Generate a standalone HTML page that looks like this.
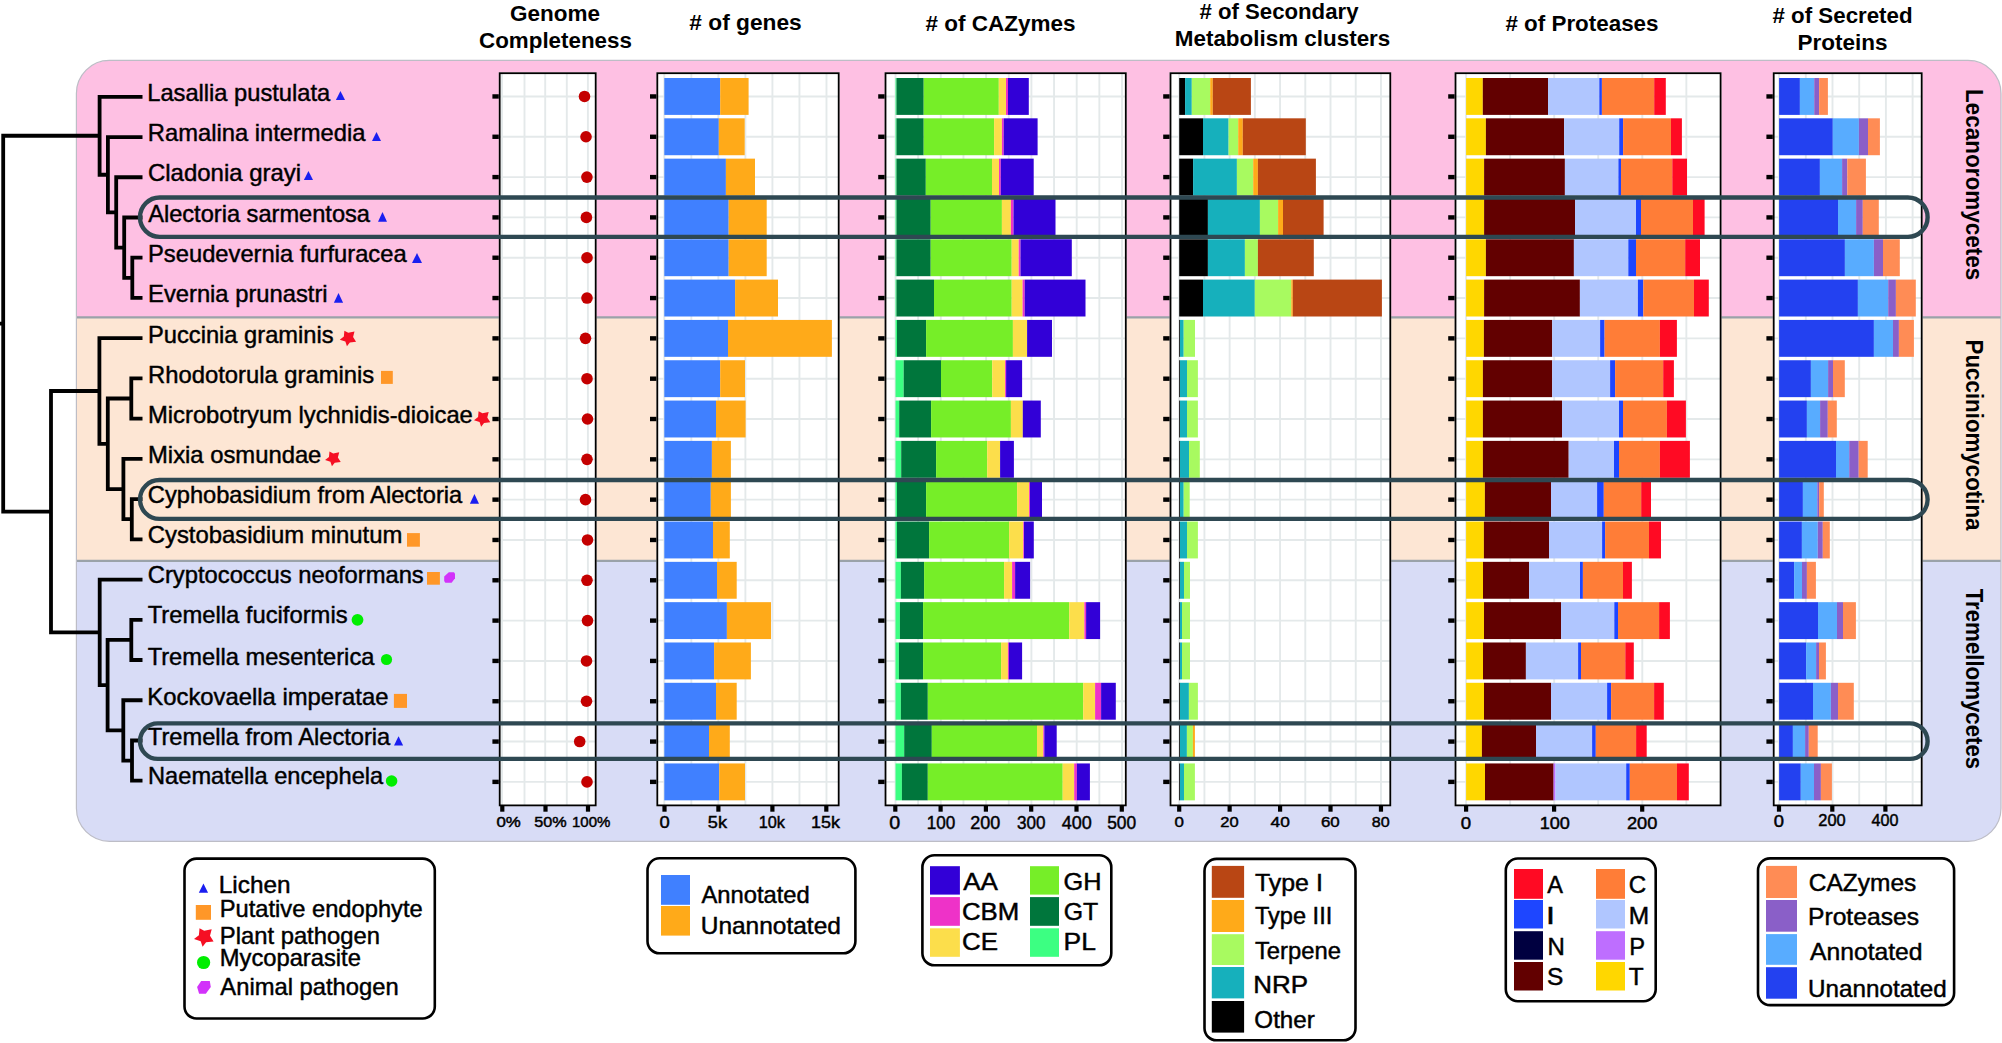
<!DOCTYPE html>
<html><head><meta charset="utf-8"><title>Figure</title>
<style>html,body{margin:0;padding:0;background:#fff;overflow:hidden;} svg{display:block;}</style></head>
<body><svg width="2002" height="1043" viewBox="0 0 2002 1043">
<rect width="2002" height="1043" fill="#fff"/>
<rect x="184.5" y="858.6" width="250.30" height="159.90" rx="12" ry="12" fill="#fff" stroke="#000" stroke-width="2.6"/>
<rect x="647.5" y="858.3000000000001" width="207.90" height="95.00" rx="12" ry="12" fill="#fff" stroke="#000" stroke-width="2.6"/>
<rect x="922.4000000000001" y="855.2" width="188.90" height="110.10" rx="12" ry="12" fill="#fff" stroke="#000" stroke-width="2.6"/>
<rect x="1204.5" y="858.9000000000001" width="151.00" height="181.40" rx="12" ry="12" fill="#fff" stroke="#000" stroke-width="2.6"/>
<rect x="1505.8" y="858.5" width="149.90" height="142.70" rx="12" ry="12" fill="#fff" stroke="#000" stroke-width="2.6"/>
<rect x="1758.0" y="858.4000000000001" width="196.10" height="146.70" rx="12" ry="12" fill="#fff" stroke="#000" stroke-width="2.6"/>
<polygon points="198.80,892.70 208.10,892.70 203.45,883.60" fill="#1A1EF0"/>
<rect x="195.8" y="905.0" width="15.20" height="14.80" fill="#FF9728"/>
<polygon points="199.50,928.20 204.20,930.80 211.70,929.20 210.00,935.80 213.60,941.60 206.10,942.30 202.60,946.80 200.70,941.20 194.00,939.00 198.90,935.30" fill="#F50F23"/>
<circle cx="203.6" cy="962.5" r="6.6" fill="#00EE00"/>
<polygon points="201.2,981.1 209.8,981.1 210.8,987 205.8,993.8 199.1,993.8 197.1,987" fill="#D232FA"/>
<rect x="661" y="875" width="29.00" height="29.80" fill="#4080FF"/>
<rect x="661" y="906" width="29.00" height="29.60" fill="#FFAA19"/>
<rect x="930" y="866.2" width="29.90" height="28.40" fill="#3200D7"/>
<rect x="1030" y="866.2" width="29.00" height="28.40" fill="#76EE28"/>
<rect x="930" y="897.1" width="29.90" height="28.70" fill="#EE32C8"/>
<rect x="1030" y="897.1" width="29.00" height="28.70" fill="#00763C"/>
<rect x="930" y="928.3" width="29.90" height="28.50" fill="#FCDE4B"/>
<rect x="1030" y="928.3" width="29.00" height="28.50" fill="#3CFF82"/>
<rect x="1211.8" y="865.9" width="32.30" height="31.90" fill="#B94614"/>
<rect x="1211.8" y="900" width="32.30" height="32.00" fill="#FFAA19"/>
<rect x="1211.8" y="934.2" width="32.30" height="30.80" fill="#A8FA60"/>
<rect x="1211.8" y="967" width="32.30" height="31.40" fill="#16B0BC"/>
<rect x="1211.8" y="1001" width="32.30" height="31.60" fill="#000000"/>
<rect x="1514" y="869" width="29.00" height="29.80" fill="#FF0A23"/>
<rect x="1596" y="869" width="29.00" height="29.80" fill="#FF7D37"/>
<rect x="1514" y="900" width="29.00" height="28.50" fill="#1E46FF"/>
<rect x="1596" y="900" width="29.00" height="28.50" fill="#B0C6FF"/>
<rect x="1514" y="931.2" width="29.00" height="28.50" fill="#000040"/>
<rect x="1596" y="931.2" width="29.00" height="28.50" fill="#BE6EFF"/>
<rect x="1514" y="962" width="29.00" height="28.50" fill="#620000"/>
<rect x="1596" y="962" width="29.00" height="28.50" fill="#FFD700"/>
<rect x="1766" y="865.9" width="31.00" height="32.10" fill="#FF8C55"/>
<rect x="1766" y="900" width="31.00" height="31.70" fill="#8A5FC8"/>
<rect x="1766" y="934.1" width="31.00" height="30.70" fill="#58ACFF"/>
<rect x="1766" y="967.2" width="31.00" height="31.50" fill="#2341F0"/>
<defs><clipPath id="band"><rect x="76.4" y="60.4" width="1924.6" height="780.9" rx="33" ry="33"/></clipPath></defs>
<g clip-path="url(#band)">
<rect x="76.4" y="60.4" width="1924.6" height="256.90000000000003" fill="#FEC0E3"/>
<rect x="76.4" y="317.3" width="1924.6" height="243.49999999999994" fill="#FDE6D4"/>
<rect x="76.4" y="560.8" width="1924.6" height="280.5" fill="#D8DCF6"/>
<line x1="76.4" y1="317.3" x2="2001.0" y2="317.3" stroke="#9AA2A9" stroke-width="2.2"/>
<line x1="76.4" y1="560.8" x2="2001.0" y2="560.8" stroke="#9AA2A9" stroke-width="2.2"/>
</g>
<rect x="76.4" y="60.4" width="1924.6" height="780.9" rx="33" ry="33" fill="none" stroke="#BDBDC6" stroke-width="1.2"/>
<rect x="498.8" y="72.3" width="97.80000000000001" height="734.0" fill="#fff"/>
<line x1="502.00" y1="73.3" x2="502.00" y2="805.3" stroke="#E4E9EA" stroke-width="1.9"/>
<line x1="524.50" y1="73.3" x2="524.50" y2="805.3" stroke="#E4E9EA" stroke-width="1.9"/>
<line x1="545.20" y1="73.3" x2="545.20" y2="805.3" stroke="#E4E9EA" stroke-width="1.9"/>
<line x1="566.80" y1="73.3" x2="566.80" y2="805.3" stroke="#E4E9EA" stroke-width="1.9"/>
<line x1="587.90" y1="73.3" x2="587.90" y2="805.3" stroke="#E4E9EA" stroke-width="1.9"/>
<line x1="499.8" y1="96.45" x2="595.6" y2="96.45" stroke="#E4E9EA" stroke-width="1.9"/>
<line x1="499.8" y1="136.77" x2="595.6" y2="136.77" stroke="#E4E9EA" stroke-width="1.9"/>
<line x1="499.8" y1="177.09" x2="595.6" y2="177.09" stroke="#E4E9EA" stroke-width="1.9"/>
<line x1="499.8" y1="217.41" x2="595.6" y2="217.41" stroke="#E4E9EA" stroke-width="1.9"/>
<line x1="499.8" y1="257.73" x2="595.6" y2="257.73" stroke="#E4E9EA" stroke-width="1.9"/>
<line x1="499.8" y1="298.05" x2="595.6" y2="298.05" stroke="#E4E9EA" stroke-width="1.9"/>
<line x1="499.8" y1="338.37" x2="595.6" y2="338.37" stroke="#E4E9EA" stroke-width="1.9"/>
<line x1="499.8" y1="378.69" x2="595.6" y2="378.69" stroke="#E4E9EA" stroke-width="1.9"/>
<line x1="499.8" y1="419.01" x2="595.6" y2="419.01" stroke="#E4E9EA" stroke-width="1.9"/>
<line x1="499.8" y1="459.33" x2="595.6" y2="459.33" stroke="#E4E9EA" stroke-width="1.9"/>
<line x1="499.8" y1="499.65" x2="595.6" y2="499.65" stroke="#E4E9EA" stroke-width="1.9"/>
<line x1="499.8" y1="539.97" x2="595.6" y2="539.97" stroke="#E4E9EA" stroke-width="1.9"/>
<line x1="499.8" y1="580.29" x2="595.6" y2="580.29" stroke="#E4E9EA" stroke-width="1.9"/>
<line x1="499.8" y1="620.61" x2="595.6" y2="620.61" stroke="#E4E9EA" stroke-width="1.9"/>
<line x1="499.8" y1="660.93" x2="595.6" y2="660.93" stroke="#E4E9EA" stroke-width="1.9"/>
<line x1="499.8" y1="701.25" x2="595.6" y2="701.25" stroke="#E4E9EA" stroke-width="1.9"/>
<line x1="499.8" y1="741.57" x2="595.6" y2="741.57" stroke="#E4E9EA" stroke-width="1.9"/>
<line x1="499.8" y1="781.89" x2="595.6" y2="781.89" stroke="#E4E9EA" stroke-width="1.9"/>
<line x1="492.40000000000003" y1="96.45" x2="498.8" y2="96.45" stroke="#000" stroke-width="4.4"/>
<line x1="492.40000000000003" y1="136.77" x2="498.8" y2="136.77" stroke="#000" stroke-width="4.4"/>
<line x1="492.40000000000003" y1="177.09" x2="498.8" y2="177.09" stroke="#000" stroke-width="4.4"/>
<line x1="492.40000000000003" y1="217.41" x2="498.8" y2="217.41" stroke="#000" stroke-width="4.4"/>
<line x1="492.40000000000003" y1="257.73" x2="498.8" y2="257.73" stroke="#000" stroke-width="4.4"/>
<line x1="492.40000000000003" y1="298.05" x2="498.8" y2="298.05" stroke="#000" stroke-width="4.4"/>
<line x1="492.40000000000003" y1="338.37" x2="498.8" y2="338.37" stroke="#000" stroke-width="4.4"/>
<line x1="492.40000000000003" y1="378.69" x2="498.8" y2="378.69" stroke="#000" stroke-width="4.4"/>
<line x1="492.40000000000003" y1="419.01" x2="498.8" y2="419.01" stroke="#000" stroke-width="4.4"/>
<line x1="492.40000000000003" y1="459.33" x2="498.8" y2="459.33" stroke="#000" stroke-width="4.4"/>
<line x1="492.40000000000003" y1="499.65" x2="498.8" y2="499.65" stroke="#000" stroke-width="4.4"/>
<line x1="492.40000000000003" y1="539.97" x2="498.8" y2="539.97" stroke="#000" stroke-width="4.4"/>
<line x1="492.40000000000003" y1="580.29" x2="498.8" y2="580.29" stroke="#000" stroke-width="4.4"/>
<line x1="492.40000000000003" y1="620.61" x2="498.8" y2="620.61" stroke="#000" stroke-width="4.4"/>
<line x1="492.40000000000003" y1="660.93" x2="498.8" y2="660.93" stroke="#000" stroke-width="4.4"/>
<line x1="492.40000000000003" y1="701.25" x2="498.8" y2="701.25" stroke="#000" stroke-width="4.4"/>
<line x1="492.40000000000003" y1="741.57" x2="498.8" y2="741.57" stroke="#000" stroke-width="4.4"/>
<line x1="492.40000000000003" y1="781.89" x2="498.8" y2="781.89" stroke="#000" stroke-width="4.4"/>
<rect x="656.4" y="72.3" width="183.20000000000005" height="734.0" fill="#fff"/>
<line x1="664.30" y1="73.3" x2="664.30" y2="805.3" stroke="#E4E9EA" stroke-width="1.9"/>
<line x1="691.33" y1="73.3" x2="691.33" y2="805.3" stroke="#E4E9EA" stroke-width="1.9"/>
<line x1="718.36" y1="73.3" x2="718.36" y2="805.3" stroke="#E4E9EA" stroke-width="1.9"/>
<line x1="745.39" y1="73.3" x2="745.39" y2="805.3" stroke="#E4E9EA" stroke-width="1.9"/>
<line x1="772.42" y1="73.3" x2="772.42" y2="805.3" stroke="#E4E9EA" stroke-width="1.9"/>
<line x1="799.45" y1="73.3" x2="799.45" y2="805.3" stroke="#E4E9EA" stroke-width="1.9"/>
<line x1="826.48" y1="73.3" x2="826.48" y2="805.3" stroke="#E4E9EA" stroke-width="1.9"/>
<line x1="657.4" y1="96.45" x2="838.6" y2="96.45" stroke="#E4E9EA" stroke-width="1.9"/>
<line x1="657.4" y1="136.77" x2="838.6" y2="136.77" stroke="#E4E9EA" stroke-width="1.9"/>
<line x1="657.4" y1="177.09" x2="838.6" y2="177.09" stroke="#E4E9EA" stroke-width="1.9"/>
<line x1="657.4" y1="217.41" x2="838.6" y2="217.41" stroke="#E4E9EA" stroke-width="1.9"/>
<line x1="657.4" y1="257.73" x2="838.6" y2="257.73" stroke="#E4E9EA" stroke-width="1.9"/>
<line x1="657.4" y1="298.05" x2="838.6" y2="298.05" stroke="#E4E9EA" stroke-width="1.9"/>
<line x1="657.4" y1="338.37" x2="838.6" y2="338.37" stroke="#E4E9EA" stroke-width="1.9"/>
<line x1="657.4" y1="378.69" x2="838.6" y2="378.69" stroke="#E4E9EA" stroke-width="1.9"/>
<line x1="657.4" y1="419.01" x2="838.6" y2="419.01" stroke="#E4E9EA" stroke-width="1.9"/>
<line x1="657.4" y1="459.33" x2="838.6" y2="459.33" stroke="#E4E9EA" stroke-width="1.9"/>
<line x1="657.4" y1="499.65" x2="838.6" y2="499.65" stroke="#E4E9EA" stroke-width="1.9"/>
<line x1="657.4" y1="539.97" x2="838.6" y2="539.97" stroke="#E4E9EA" stroke-width="1.9"/>
<line x1="657.4" y1="580.29" x2="838.6" y2="580.29" stroke="#E4E9EA" stroke-width="1.9"/>
<line x1="657.4" y1="620.61" x2="838.6" y2="620.61" stroke="#E4E9EA" stroke-width="1.9"/>
<line x1="657.4" y1="660.93" x2="838.6" y2="660.93" stroke="#E4E9EA" stroke-width="1.9"/>
<line x1="657.4" y1="701.25" x2="838.6" y2="701.25" stroke="#E4E9EA" stroke-width="1.9"/>
<line x1="657.4" y1="741.57" x2="838.6" y2="741.57" stroke="#E4E9EA" stroke-width="1.9"/>
<line x1="657.4" y1="781.89" x2="838.6" y2="781.89" stroke="#E4E9EA" stroke-width="1.9"/>
<line x1="650.0" y1="96.45" x2="656.4" y2="96.45" stroke="#000" stroke-width="4.4"/>
<line x1="650.0" y1="136.77" x2="656.4" y2="136.77" stroke="#000" stroke-width="4.4"/>
<line x1="650.0" y1="177.09" x2="656.4" y2="177.09" stroke="#000" stroke-width="4.4"/>
<line x1="650.0" y1="217.41" x2="656.4" y2="217.41" stroke="#000" stroke-width="4.4"/>
<line x1="650.0" y1="257.73" x2="656.4" y2="257.73" stroke="#000" stroke-width="4.4"/>
<line x1="650.0" y1="298.05" x2="656.4" y2="298.05" stroke="#000" stroke-width="4.4"/>
<line x1="650.0" y1="338.37" x2="656.4" y2="338.37" stroke="#000" stroke-width="4.4"/>
<line x1="650.0" y1="378.69" x2="656.4" y2="378.69" stroke="#000" stroke-width="4.4"/>
<line x1="650.0" y1="419.01" x2="656.4" y2="419.01" stroke="#000" stroke-width="4.4"/>
<line x1="650.0" y1="459.33" x2="656.4" y2="459.33" stroke="#000" stroke-width="4.4"/>
<line x1="650.0" y1="499.65" x2="656.4" y2="499.65" stroke="#000" stroke-width="4.4"/>
<line x1="650.0" y1="539.97" x2="656.4" y2="539.97" stroke="#000" stroke-width="4.4"/>
<line x1="650.0" y1="580.29" x2="656.4" y2="580.29" stroke="#000" stroke-width="4.4"/>
<line x1="650.0" y1="620.61" x2="656.4" y2="620.61" stroke="#000" stroke-width="4.4"/>
<line x1="650.0" y1="660.93" x2="656.4" y2="660.93" stroke="#000" stroke-width="4.4"/>
<line x1="650.0" y1="701.25" x2="656.4" y2="701.25" stroke="#000" stroke-width="4.4"/>
<line x1="650.0" y1="741.57" x2="656.4" y2="741.57" stroke="#000" stroke-width="4.4"/>
<line x1="650.0" y1="781.89" x2="656.4" y2="781.89" stroke="#000" stroke-width="4.4"/>
<rect x="884.6" y="72.3" width="242.10000000000002" height="734.0" fill="#fff"/>
<line x1="895.50" y1="73.3" x2="895.50" y2="805.3" stroke="#E4E9EA" stroke-width="1.9"/>
<line x1="918.15" y1="73.3" x2="918.15" y2="805.3" stroke="#E4E9EA" stroke-width="1.9"/>
<line x1="940.80" y1="73.3" x2="940.80" y2="805.3" stroke="#E4E9EA" stroke-width="1.9"/>
<line x1="963.45" y1="73.3" x2="963.45" y2="805.3" stroke="#E4E9EA" stroke-width="1.9"/>
<line x1="986.10" y1="73.3" x2="986.10" y2="805.3" stroke="#E4E9EA" stroke-width="1.9"/>
<line x1="1008.75" y1="73.3" x2="1008.75" y2="805.3" stroke="#E4E9EA" stroke-width="1.9"/>
<line x1="1031.40" y1="73.3" x2="1031.40" y2="805.3" stroke="#E4E9EA" stroke-width="1.9"/>
<line x1="1054.05" y1="73.3" x2="1054.05" y2="805.3" stroke="#E4E9EA" stroke-width="1.9"/>
<line x1="1076.70" y1="73.3" x2="1076.70" y2="805.3" stroke="#E4E9EA" stroke-width="1.9"/>
<line x1="1099.35" y1="73.3" x2="1099.35" y2="805.3" stroke="#E4E9EA" stroke-width="1.9"/>
<line x1="1122.00" y1="73.3" x2="1122.00" y2="805.3" stroke="#E4E9EA" stroke-width="1.9"/>
<line x1="885.6" y1="96.45" x2="1125.7" y2="96.45" stroke="#E4E9EA" stroke-width="1.9"/>
<line x1="885.6" y1="136.77" x2="1125.7" y2="136.77" stroke="#E4E9EA" stroke-width="1.9"/>
<line x1="885.6" y1="177.09" x2="1125.7" y2="177.09" stroke="#E4E9EA" stroke-width="1.9"/>
<line x1="885.6" y1="217.41" x2="1125.7" y2="217.41" stroke="#E4E9EA" stroke-width="1.9"/>
<line x1="885.6" y1="257.73" x2="1125.7" y2="257.73" stroke="#E4E9EA" stroke-width="1.9"/>
<line x1="885.6" y1="298.05" x2="1125.7" y2="298.05" stroke="#E4E9EA" stroke-width="1.9"/>
<line x1="885.6" y1="338.37" x2="1125.7" y2="338.37" stroke="#E4E9EA" stroke-width="1.9"/>
<line x1="885.6" y1="378.69" x2="1125.7" y2="378.69" stroke="#E4E9EA" stroke-width="1.9"/>
<line x1="885.6" y1="419.01" x2="1125.7" y2="419.01" stroke="#E4E9EA" stroke-width="1.9"/>
<line x1="885.6" y1="459.33" x2="1125.7" y2="459.33" stroke="#E4E9EA" stroke-width="1.9"/>
<line x1="885.6" y1="499.65" x2="1125.7" y2="499.65" stroke="#E4E9EA" stroke-width="1.9"/>
<line x1="885.6" y1="539.97" x2="1125.7" y2="539.97" stroke="#E4E9EA" stroke-width="1.9"/>
<line x1="885.6" y1="580.29" x2="1125.7" y2="580.29" stroke="#E4E9EA" stroke-width="1.9"/>
<line x1="885.6" y1="620.61" x2="1125.7" y2="620.61" stroke="#E4E9EA" stroke-width="1.9"/>
<line x1="885.6" y1="660.93" x2="1125.7" y2="660.93" stroke="#E4E9EA" stroke-width="1.9"/>
<line x1="885.6" y1="701.25" x2="1125.7" y2="701.25" stroke="#E4E9EA" stroke-width="1.9"/>
<line x1="885.6" y1="741.57" x2="1125.7" y2="741.57" stroke="#E4E9EA" stroke-width="1.9"/>
<line x1="885.6" y1="781.89" x2="1125.7" y2="781.89" stroke="#E4E9EA" stroke-width="1.9"/>
<line x1="878.2" y1="96.45" x2="884.6" y2="96.45" stroke="#000" stroke-width="4.4"/>
<line x1="878.2" y1="136.77" x2="884.6" y2="136.77" stroke="#000" stroke-width="4.4"/>
<line x1="878.2" y1="177.09" x2="884.6" y2="177.09" stroke="#000" stroke-width="4.4"/>
<line x1="878.2" y1="217.41" x2="884.6" y2="217.41" stroke="#000" stroke-width="4.4"/>
<line x1="878.2" y1="257.73" x2="884.6" y2="257.73" stroke="#000" stroke-width="4.4"/>
<line x1="878.2" y1="298.05" x2="884.6" y2="298.05" stroke="#000" stroke-width="4.4"/>
<line x1="878.2" y1="338.37" x2="884.6" y2="338.37" stroke="#000" stroke-width="4.4"/>
<line x1="878.2" y1="378.69" x2="884.6" y2="378.69" stroke="#000" stroke-width="4.4"/>
<line x1="878.2" y1="419.01" x2="884.6" y2="419.01" stroke="#000" stroke-width="4.4"/>
<line x1="878.2" y1="459.33" x2="884.6" y2="459.33" stroke="#000" stroke-width="4.4"/>
<line x1="878.2" y1="499.65" x2="884.6" y2="499.65" stroke="#000" stroke-width="4.4"/>
<line x1="878.2" y1="539.97" x2="884.6" y2="539.97" stroke="#000" stroke-width="4.4"/>
<line x1="878.2" y1="580.29" x2="884.6" y2="580.29" stroke="#000" stroke-width="4.4"/>
<line x1="878.2" y1="620.61" x2="884.6" y2="620.61" stroke="#000" stroke-width="4.4"/>
<line x1="878.2" y1="660.93" x2="884.6" y2="660.93" stroke="#000" stroke-width="4.4"/>
<line x1="878.2" y1="701.25" x2="884.6" y2="701.25" stroke="#000" stroke-width="4.4"/>
<line x1="878.2" y1="741.57" x2="884.6" y2="741.57" stroke="#000" stroke-width="4.4"/>
<line x1="878.2" y1="781.89" x2="884.6" y2="781.89" stroke="#000" stroke-width="4.4"/>
<rect x="1169.6" y="72.3" width="221.60000000000014" height="734.0" fill="#fff"/>
<line x1="1179.20" y1="73.3" x2="1179.20" y2="805.3" stroke="#E4E9EA" stroke-width="1.9"/>
<line x1="1204.42" y1="73.3" x2="1204.42" y2="805.3" stroke="#E4E9EA" stroke-width="1.9"/>
<line x1="1229.64" y1="73.3" x2="1229.64" y2="805.3" stroke="#E4E9EA" stroke-width="1.9"/>
<line x1="1254.86" y1="73.3" x2="1254.86" y2="805.3" stroke="#E4E9EA" stroke-width="1.9"/>
<line x1="1280.08" y1="73.3" x2="1280.08" y2="805.3" stroke="#E4E9EA" stroke-width="1.9"/>
<line x1="1305.30" y1="73.3" x2="1305.30" y2="805.3" stroke="#E4E9EA" stroke-width="1.9"/>
<line x1="1330.52" y1="73.3" x2="1330.52" y2="805.3" stroke="#E4E9EA" stroke-width="1.9"/>
<line x1="1355.74" y1="73.3" x2="1355.74" y2="805.3" stroke="#E4E9EA" stroke-width="1.9"/>
<line x1="1380.96" y1="73.3" x2="1380.96" y2="805.3" stroke="#E4E9EA" stroke-width="1.9"/>
<line x1="1170.6" y1="96.45" x2="1390.2" y2="96.45" stroke="#E4E9EA" stroke-width="1.9"/>
<line x1="1170.6" y1="136.77" x2="1390.2" y2="136.77" stroke="#E4E9EA" stroke-width="1.9"/>
<line x1="1170.6" y1="177.09" x2="1390.2" y2="177.09" stroke="#E4E9EA" stroke-width="1.9"/>
<line x1="1170.6" y1="217.41" x2="1390.2" y2="217.41" stroke="#E4E9EA" stroke-width="1.9"/>
<line x1="1170.6" y1="257.73" x2="1390.2" y2="257.73" stroke="#E4E9EA" stroke-width="1.9"/>
<line x1="1170.6" y1="298.05" x2="1390.2" y2="298.05" stroke="#E4E9EA" stroke-width="1.9"/>
<line x1="1170.6" y1="338.37" x2="1390.2" y2="338.37" stroke="#E4E9EA" stroke-width="1.9"/>
<line x1="1170.6" y1="378.69" x2="1390.2" y2="378.69" stroke="#E4E9EA" stroke-width="1.9"/>
<line x1="1170.6" y1="419.01" x2="1390.2" y2="419.01" stroke="#E4E9EA" stroke-width="1.9"/>
<line x1="1170.6" y1="459.33" x2="1390.2" y2="459.33" stroke="#E4E9EA" stroke-width="1.9"/>
<line x1="1170.6" y1="499.65" x2="1390.2" y2="499.65" stroke="#E4E9EA" stroke-width="1.9"/>
<line x1="1170.6" y1="539.97" x2="1390.2" y2="539.97" stroke="#E4E9EA" stroke-width="1.9"/>
<line x1="1170.6" y1="580.29" x2="1390.2" y2="580.29" stroke="#E4E9EA" stroke-width="1.9"/>
<line x1="1170.6" y1="620.61" x2="1390.2" y2="620.61" stroke="#E4E9EA" stroke-width="1.9"/>
<line x1="1170.6" y1="660.93" x2="1390.2" y2="660.93" stroke="#E4E9EA" stroke-width="1.9"/>
<line x1="1170.6" y1="701.25" x2="1390.2" y2="701.25" stroke="#E4E9EA" stroke-width="1.9"/>
<line x1="1170.6" y1="741.57" x2="1390.2" y2="741.57" stroke="#E4E9EA" stroke-width="1.9"/>
<line x1="1170.6" y1="781.89" x2="1390.2" y2="781.89" stroke="#E4E9EA" stroke-width="1.9"/>
<line x1="1163.1999999999998" y1="96.45" x2="1169.6" y2="96.45" stroke="#000" stroke-width="4.4"/>
<line x1="1163.1999999999998" y1="136.77" x2="1169.6" y2="136.77" stroke="#000" stroke-width="4.4"/>
<line x1="1163.1999999999998" y1="177.09" x2="1169.6" y2="177.09" stroke="#000" stroke-width="4.4"/>
<line x1="1163.1999999999998" y1="217.41" x2="1169.6" y2="217.41" stroke="#000" stroke-width="4.4"/>
<line x1="1163.1999999999998" y1="257.73" x2="1169.6" y2="257.73" stroke="#000" stroke-width="4.4"/>
<line x1="1163.1999999999998" y1="298.05" x2="1169.6" y2="298.05" stroke="#000" stroke-width="4.4"/>
<line x1="1163.1999999999998" y1="338.37" x2="1169.6" y2="338.37" stroke="#000" stroke-width="4.4"/>
<line x1="1163.1999999999998" y1="378.69" x2="1169.6" y2="378.69" stroke="#000" stroke-width="4.4"/>
<line x1="1163.1999999999998" y1="419.01" x2="1169.6" y2="419.01" stroke="#000" stroke-width="4.4"/>
<line x1="1163.1999999999998" y1="459.33" x2="1169.6" y2="459.33" stroke="#000" stroke-width="4.4"/>
<line x1="1163.1999999999998" y1="499.65" x2="1169.6" y2="499.65" stroke="#000" stroke-width="4.4"/>
<line x1="1163.1999999999998" y1="539.97" x2="1169.6" y2="539.97" stroke="#000" stroke-width="4.4"/>
<line x1="1163.1999999999998" y1="580.29" x2="1169.6" y2="580.29" stroke="#000" stroke-width="4.4"/>
<line x1="1163.1999999999998" y1="620.61" x2="1169.6" y2="620.61" stroke="#000" stroke-width="4.4"/>
<line x1="1163.1999999999998" y1="660.93" x2="1169.6" y2="660.93" stroke="#000" stroke-width="4.4"/>
<line x1="1163.1999999999998" y1="701.25" x2="1169.6" y2="701.25" stroke="#000" stroke-width="4.4"/>
<line x1="1163.1999999999998" y1="741.57" x2="1169.6" y2="741.57" stroke="#000" stroke-width="4.4"/>
<line x1="1163.1999999999998" y1="781.89" x2="1169.6" y2="781.89" stroke="#000" stroke-width="4.4"/>
<rect x="1454.6" y="72.3" width="266.9000000000001" height="734.0" fill="#fff"/>
<line x1="1466.10" y1="73.3" x2="1466.10" y2="805.3" stroke="#E4E9EA" stroke-width="1.9"/>
<line x1="1510.15" y1="73.3" x2="1510.15" y2="805.3" stroke="#E4E9EA" stroke-width="1.9"/>
<line x1="1554.20" y1="73.3" x2="1554.20" y2="805.3" stroke="#E4E9EA" stroke-width="1.9"/>
<line x1="1598.25" y1="73.3" x2="1598.25" y2="805.3" stroke="#E4E9EA" stroke-width="1.9"/>
<line x1="1642.30" y1="73.3" x2="1642.30" y2="805.3" stroke="#E4E9EA" stroke-width="1.9"/>
<line x1="1686.35" y1="73.3" x2="1686.35" y2="805.3" stroke="#E4E9EA" stroke-width="1.9"/>
<line x1="1455.6" y1="96.45" x2="1720.5" y2="96.45" stroke="#E4E9EA" stroke-width="1.9"/>
<line x1="1455.6" y1="136.77" x2="1720.5" y2="136.77" stroke="#E4E9EA" stroke-width="1.9"/>
<line x1="1455.6" y1="177.09" x2="1720.5" y2="177.09" stroke="#E4E9EA" stroke-width="1.9"/>
<line x1="1455.6" y1="217.41" x2="1720.5" y2="217.41" stroke="#E4E9EA" stroke-width="1.9"/>
<line x1="1455.6" y1="257.73" x2="1720.5" y2="257.73" stroke="#E4E9EA" stroke-width="1.9"/>
<line x1="1455.6" y1="298.05" x2="1720.5" y2="298.05" stroke="#E4E9EA" stroke-width="1.9"/>
<line x1="1455.6" y1="338.37" x2="1720.5" y2="338.37" stroke="#E4E9EA" stroke-width="1.9"/>
<line x1="1455.6" y1="378.69" x2="1720.5" y2="378.69" stroke="#E4E9EA" stroke-width="1.9"/>
<line x1="1455.6" y1="419.01" x2="1720.5" y2="419.01" stroke="#E4E9EA" stroke-width="1.9"/>
<line x1="1455.6" y1="459.33" x2="1720.5" y2="459.33" stroke="#E4E9EA" stroke-width="1.9"/>
<line x1="1455.6" y1="499.65" x2="1720.5" y2="499.65" stroke="#E4E9EA" stroke-width="1.9"/>
<line x1="1455.6" y1="539.97" x2="1720.5" y2="539.97" stroke="#E4E9EA" stroke-width="1.9"/>
<line x1="1455.6" y1="580.29" x2="1720.5" y2="580.29" stroke="#E4E9EA" stroke-width="1.9"/>
<line x1="1455.6" y1="620.61" x2="1720.5" y2="620.61" stroke="#E4E9EA" stroke-width="1.9"/>
<line x1="1455.6" y1="660.93" x2="1720.5" y2="660.93" stroke="#E4E9EA" stroke-width="1.9"/>
<line x1="1455.6" y1="701.25" x2="1720.5" y2="701.25" stroke="#E4E9EA" stroke-width="1.9"/>
<line x1="1455.6" y1="741.57" x2="1720.5" y2="741.57" stroke="#E4E9EA" stroke-width="1.9"/>
<line x1="1455.6" y1="781.89" x2="1720.5" y2="781.89" stroke="#E4E9EA" stroke-width="1.9"/>
<line x1="1448.1999999999998" y1="96.45" x2="1454.6" y2="96.45" stroke="#000" stroke-width="4.4"/>
<line x1="1448.1999999999998" y1="136.77" x2="1454.6" y2="136.77" stroke="#000" stroke-width="4.4"/>
<line x1="1448.1999999999998" y1="177.09" x2="1454.6" y2="177.09" stroke="#000" stroke-width="4.4"/>
<line x1="1448.1999999999998" y1="217.41" x2="1454.6" y2="217.41" stroke="#000" stroke-width="4.4"/>
<line x1="1448.1999999999998" y1="257.73" x2="1454.6" y2="257.73" stroke="#000" stroke-width="4.4"/>
<line x1="1448.1999999999998" y1="298.05" x2="1454.6" y2="298.05" stroke="#000" stroke-width="4.4"/>
<line x1="1448.1999999999998" y1="338.37" x2="1454.6" y2="338.37" stroke="#000" stroke-width="4.4"/>
<line x1="1448.1999999999998" y1="378.69" x2="1454.6" y2="378.69" stroke="#000" stroke-width="4.4"/>
<line x1="1448.1999999999998" y1="419.01" x2="1454.6" y2="419.01" stroke="#000" stroke-width="4.4"/>
<line x1="1448.1999999999998" y1="459.33" x2="1454.6" y2="459.33" stroke="#000" stroke-width="4.4"/>
<line x1="1448.1999999999998" y1="499.65" x2="1454.6" y2="499.65" stroke="#000" stroke-width="4.4"/>
<line x1="1448.1999999999998" y1="539.97" x2="1454.6" y2="539.97" stroke="#000" stroke-width="4.4"/>
<line x1="1448.1999999999998" y1="580.29" x2="1454.6" y2="580.29" stroke="#000" stroke-width="4.4"/>
<line x1="1448.1999999999998" y1="620.61" x2="1454.6" y2="620.61" stroke="#000" stroke-width="4.4"/>
<line x1="1448.1999999999998" y1="660.93" x2="1454.6" y2="660.93" stroke="#000" stroke-width="4.4"/>
<line x1="1448.1999999999998" y1="701.25" x2="1454.6" y2="701.25" stroke="#000" stroke-width="4.4"/>
<line x1="1448.1999999999998" y1="741.57" x2="1454.6" y2="741.57" stroke="#000" stroke-width="4.4"/>
<line x1="1448.1999999999998" y1="781.89" x2="1454.6" y2="781.89" stroke="#000" stroke-width="4.4"/>
<rect x="1772.8" y="72.3" width="149.79999999999995" height="734.0" fill="#fff"/>
<line x1="1779.10" y1="73.3" x2="1779.10" y2="805.3" stroke="#E4E9EA" stroke-width="1.9"/>
<line x1="1805.80" y1="73.3" x2="1805.80" y2="805.3" stroke="#E4E9EA" stroke-width="1.9"/>
<line x1="1832.50" y1="73.3" x2="1832.50" y2="805.3" stroke="#E4E9EA" stroke-width="1.9"/>
<line x1="1859.20" y1="73.3" x2="1859.20" y2="805.3" stroke="#E4E9EA" stroke-width="1.9"/>
<line x1="1885.90" y1="73.3" x2="1885.90" y2="805.3" stroke="#E4E9EA" stroke-width="1.9"/>
<line x1="1912.60" y1="73.3" x2="1912.60" y2="805.3" stroke="#E4E9EA" stroke-width="1.9"/>
<line x1="1773.8" y1="96.45" x2="1921.6" y2="96.45" stroke="#E4E9EA" stroke-width="1.9"/>
<line x1="1773.8" y1="136.77" x2="1921.6" y2="136.77" stroke="#E4E9EA" stroke-width="1.9"/>
<line x1="1773.8" y1="177.09" x2="1921.6" y2="177.09" stroke="#E4E9EA" stroke-width="1.9"/>
<line x1="1773.8" y1="217.41" x2="1921.6" y2="217.41" stroke="#E4E9EA" stroke-width="1.9"/>
<line x1="1773.8" y1="257.73" x2="1921.6" y2="257.73" stroke="#E4E9EA" stroke-width="1.9"/>
<line x1="1773.8" y1="298.05" x2="1921.6" y2="298.05" stroke="#E4E9EA" stroke-width="1.9"/>
<line x1="1773.8" y1="338.37" x2="1921.6" y2="338.37" stroke="#E4E9EA" stroke-width="1.9"/>
<line x1="1773.8" y1="378.69" x2="1921.6" y2="378.69" stroke="#E4E9EA" stroke-width="1.9"/>
<line x1="1773.8" y1="419.01" x2="1921.6" y2="419.01" stroke="#E4E9EA" stroke-width="1.9"/>
<line x1="1773.8" y1="459.33" x2="1921.6" y2="459.33" stroke="#E4E9EA" stroke-width="1.9"/>
<line x1="1773.8" y1="499.65" x2="1921.6" y2="499.65" stroke="#E4E9EA" stroke-width="1.9"/>
<line x1="1773.8" y1="539.97" x2="1921.6" y2="539.97" stroke="#E4E9EA" stroke-width="1.9"/>
<line x1="1773.8" y1="580.29" x2="1921.6" y2="580.29" stroke="#E4E9EA" stroke-width="1.9"/>
<line x1="1773.8" y1="620.61" x2="1921.6" y2="620.61" stroke="#E4E9EA" stroke-width="1.9"/>
<line x1="1773.8" y1="660.93" x2="1921.6" y2="660.93" stroke="#E4E9EA" stroke-width="1.9"/>
<line x1="1773.8" y1="701.25" x2="1921.6" y2="701.25" stroke="#E4E9EA" stroke-width="1.9"/>
<line x1="1773.8" y1="741.57" x2="1921.6" y2="741.57" stroke="#E4E9EA" stroke-width="1.9"/>
<line x1="1773.8" y1="781.89" x2="1921.6" y2="781.89" stroke="#E4E9EA" stroke-width="1.9"/>
<line x1="1766.3999999999999" y1="96.45" x2="1772.8" y2="96.45" stroke="#000" stroke-width="4.4"/>
<line x1="1766.3999999999999" y1="136.77" x2="1772.8" y2="136.77" stroke="#000" stroke-width="4.4"/>
<line x1="1766.3999999999999" y1="177.09" x2="1772.8" y2="177.09" stroke="#000" stroke-width="4.4"/>
<line x1="1766.3999999999999" y1="217.41" x2="1772.8" y2="217.41" stroke="#000" stroke-width="4.4"/>
<line x1="1766.3999999999999" y1="257.73" x2="1772.8" y2="257.73" stroke="#000" stroke-width="4.4"/>
<line x1="1766.3999999999999" y1="298.05" x2="1772.8" y2="298.05" stroke="#000" stroke-width="4.4"/>
<line x1="1766.3999999999999" y1="338.37" x2="1772.8" y2="338.37" stroke="#000" stroke-width="4.4"/>
<line x1="1766.3999999999999" y1="378.69" x2="1772.8" y2="378.69" stroke="#000" stroke-width="4.4"/>
<line x1="1766.3999999999999" y1="419.01" x2="1772.8" y2="419.01" stroke="#000" stroke-width="4.4"/>
<line x1="1766.3999999999999" y1="459.33" x2="1772.8" y2="459.33" stroke="#000" stroke-width="4.4"/>
<line x1="1766.3999999999999" y1="499.65" x2="1772.8" y2="499.65" stroke="#000" stroke-width="4.4"/>
<line x1="1766.3999999999999" y1="539.97" x2="1772.8" y2="539.97" stroke="#000" stroke-width="4.4"/>
<line x1="1766.3999999999999" y1="580.29" x2="1772.8" y2="580.29" stroke="#000" stroke-width="4.4"/>
<line x1="1766.3999999999999" y1="620.61" x2="1772.8" y2="620.61" stroke="#000" stroke-width="4.4"/>
<line x1="1766.3999999999999" y1="660.93" x2="1772.8" y2="660.93" stroke="#000" stroke-width="4.4"/>
<line x1="1766.3999999999999" y1="701.25" x2="1772.8" y2="701.25" stroke="#000" stroke-width="4.4"/>
<line x1="1766.3999999999999" y1="741.57" x2="1772.8" y2="741.57" stroke="#000" stroke-width="4.4"/>
<line x1="1766.3999999999999" y1="781.89" x2="1772.8" y2="781.89" stroke="#000" stroke-width="4.4"/>
<rect x="664.30" y="78.00" width="55.90" height="36.9" fill="#4080FF"/>
<rect x="720.20" y="78.00" width="28.40" height="36.9" fill="#FFAA19"/>
<rect x="664.30" y="118.32" width="54.50" height="36.9" fill="#4080FF"/>
<rect x="718.80" y="118.32" width="25.90" height="36.9" fill="#FFAA19"/>
<rect x="664.30" y="158.64" width="61.60" height="36.9" fill="#4080FF"/>
<rect x="725.90" y="158.64" width="29.10" height="36.9" fill="#FFAA19"/>
<rect x="664.30" y="198.96" width="64.40" height="36.9" fill="#4080FF"/>
<rect x="728.70" y="198.96" width="38.00" height="36.9" fill="#FFAA19"/>
<rect x="664.30" y="239.28" width="64.40" height="36.9" fill="#4080FF"/>
<rect x="728.70" y="239.28" width="38.00" height="36.9" fill="#FFAA19"/>
<rect x="664.30" y="279.60" width="70.80" height="36.9" fill="#4080FF"/>
<rect x="735.10" y="279.60" width="42.90" height="36.9" fill="#FFAA19"/>
<rect x="664.30" y="319.92" width="63.70" height="36.9" fill="#4080FF"/>
<rect x="728.00" y="319.92" width="103.90" height="36.9" fill="#FFAA19"/>
<rect x="664.30" y="360.24" width="55.90" height="36.9" fill="#4080FF"/>
<rect x="720.20" y="360.24" width="24.80" height="36.9" fill="#FFAA19"/>
<rect x="664.30" y="400.56" width="51.70" height="36.9" fill="#4080FF"/>
<rect x="716.00" y="400.56" width="29.60" height="36.9" fill="#FFAA19"/>
<rect x="664.30" y="440.88" width="47.60" height="36.9" fill="#4080FF"/>
<rect x="711.90" y="440.88" width="19.00" height="36.9" fill="#FFAA19"/>
<rect x="664.30" y="481.20" width="46.50" height="36.9" fill="#4080FF"/>
<rect x="710.80" y="481.20" width="20.10" height="36.9" fill="#FFAA19"/>
<rect x="664.30" y="521.52" width="48.70" height="36.9" fill="#4080FF"/>
<rect x="713.00" y="521.52" width="16.80" height="36.9" fill="#FFAA19"/>
<rect x="664.30" y="561.84" width="52.70" height="36.9" fill="#4080FF"/>
<rect x="717.00" y="561.84" width="19.70" height="36.9" fill="#FFAA19"/>
<rect x="664.30" y="602.16" width="62.60" height="36.9" fill="#4080FF"/>
<rect x="726.90" y="602.16" width="44.10" height="36.9" fill="#FFAA19"/>
<rect x="664.30" y="642.48" width="49.80" height="36.9" fill="#4080FF"/>
<rect x="714.10" y="642.48" width="36.80" height="36.9" fill="#FFAA19"/>
<rect x="664.30" y="682.80" width="51.70" height="36.9" fill="#4080FF"/>
<rect x="716.00" y="682.80" width="20.70" height="36.9" fill="#FFAA19"/>
<rect x="664.30" y="723.12" width="44.70" height="36.9" fill="#4080FF"/>
<rect x="709.00" y="723.12" width="20.80" height="36.9" fill="#FFAA19"/>
<rect x="664.30" y="763.44" width="54.90" height="36.9" fill="#4080FF"/>
<rect x="719.20" y="763.44" width="25.80" height="36.9" fill="#FFAA19"/>
<rect x="895.50" y="78.00" width="1.00" height="36.9" fill="#3CFF82"/>
<rect x="896.50" y="78.00" width="27.20" height="36.9" fill="#00763C"/>
<rect x="923.70" y="78.00" width="75.10" height="36.9" fill="#76EE28"/>
<rect x="998.80" y="78.00" width="7.20" height="36.9" fill="#FCDE4B"/>
<rect x="1006.00" y="78.00" width="2.00" height="36.9" fill="#EE32C8"/>
<rect x="1008.00" y="78.00" width="20.80" height="36.9" fill="#3200D7"/>
<rect x="895.50" y="118.32" width="1.00" height="36.9" fill="#3CFF82"/>
<rect x="896.50" y="118.32" width="27.20" height="36.9" fill="#00763C"/>
<rect x="923.70" y="118.32" width="70.40" height="36.9" fill="#76EE28"/>
<rect x="994.10" y="118.32" width="7.80" height="36.9" fill="#FCDE4B"/>
<rect x="1001.90" y="118.32" width="1.80" height="36.9" fill="#EE32C8"/>
<rect x="1003.70" y="118.32" width="33.90" height="36.9" fill="#3200D7"/>
<rect x="895.50" y="158.64" width="1.00" height="36.9" fill="#3CFF82"/>
<rect x="896.50" y="158.64" width="29.30" height="36.9" fill="#00763C"/>
<rect x="925.80" y="158.64" width="66.20" height="36.9" fill="#76EE28"/>
<rect x="992.00" y="158.64" width="7.00" height="36.9" fill="#FCDE4B"/>
<rect x="999.00" y="158.64" width="1.80" height="36.9" fill="#EE32C8"/>
<rect x="1000.80" y="158.64" width="32.90" height="36.9" fill="#3200D7"/>
<rect x="895.50" y="198.96" width="1.00" height="36.9" fill="#3CFF82"/>
<rect x="896.50" y="198.96" width="34.20" height="36.9" fill="#00763C"/>
<rect x="930.70" y="198.96" width="71.20" height="36.9" fill="#76EE28"/>
<rect x="1001.90" y="198.96" width="9.00" height="36.9" fill="#FCDE4B"/>
<rect x="1010.90" y="198.96" width="2.60" height="36.9" fill="#EE32C8"/>
<rect x="1013.50" y="198.96" width="42.00" height="36.9" fill="#3200D7"/>
<rect x="895.50" y="239.28" width="1.00" height="36.9" fill="#3CFF82"/>
<rect x="896.50" y="239.28" width="34.20" height="36.9" fill="#00763C"/>
<rect x="930.70" y="239.28" width="81.00" height="36.9" fill="#76EE28"/>
<rect x="1011.70" y="239.28" width="7.00" height="36.9" fill="#FCDE4B"/>
<rect x="1018.70" y="239.28" width="1.80" height="36.9" fill="#EE32C8"/>
<rect x="1020.50" y="239.28" width="51.30" height="36.9" fill="#3200D7"/>
<rect x="895.50" y="279.60" width="1.00" height="36.9" fill="#3CFF82"/>
<rect x="896.50" y="279.60" width="37.50" height="36.9" fill="#00763C"/>
<rect x="934.00" y="279.60" width="77.70" height="36.9" fill="#76EE28"/>
<rect x="1011.70" y="279.60" width="10.90" height="36.9" fill="#FCDE4B"/>
<rect x="1022.60" y="279.60" width="2.10" height="36.9" fill="#EE32C8"/>
<rect x="1024.70" y="279.60" width="60.80" height="36.9" fill="#3200D7"/>
<rect x="895.50" y="319.92" width="1.50" height="36.9" fill="#3CFF82"/>
<rect x="897.00" y="319.92" width="29.10" height="36.9" fill="#00763C"/>
<rect x="926.10" y="319.92" width="86.80" height="36.9" fill="#76EE28"/>
<rect x="1012.90" y="319.92" width="14.20" height="36.9" fill="#FCDE4B"/>
<rect x="1027.10" y="319.92" width="24.90" height="36.9" fill="#3200D7"/>
<rect x="895.50" y="360.24" width="8.20" height="36.9" fill="#3CFF82"/>
<rect x="903.70" y="360.24" width="37.30" height="36.9" fill="#00763C"/>
<rect x="941.00" y="360.24" width="51.20" height="36.9" fill="#76EE28"/>
<rect x="992.20" y="360.24" width="12.90" height="36.9" fill="#FCDE4B"/>
<rect x="1005.10" y="360.24" width="1.00" height="36.9" fill="#EE32C8"/>
<rect x="1006.10" y="360.24" width="16.00" height="36.9" fill="#3200D7"/>
<rect x="895.50" y="400.56" width="3.70" height="36.9" fill="#3CFF82"/>
<rect x="899.20" y="400.56" width="31.90" height="36.9" fill="#00763C"/>
<rect x="931.10" y="400.56" width="79.80" height="36.9" fill="#76EE28"/>
<rect x="1010.90" y="400.56" width="11.90" height="36.9" fill="#FCDE4B"/>
<rect x="1022.80" y="400.56" width="18.00" height="36.9" fill="#3200D7"/>
<rect x="895.50" y="440.88" width="5.70" height="36.9" fill="#3CFF82"/>
<rect x="901.20" y="440.88" width="34.90" height="36.9" fill="#00763C"/>
<rect x="936.10" y="440.88" width="51.10" height="36.9" fill="#76EE28"/>
<rect x="987.20" y="440.88" width="12.90" height="36.9" fill="#FCDE4B"/>
<rect x="1000.10" y="440.88" width="13.80" height="36.9" fill="#3200D7"/>
<rect x="895.50" y="481.20" width="1.50" height="36.9" fill="#3CFF82"/>
<rect x="897.00" y="481.20" width="29.10" height="36.9" fill="#00763C"/>
<rect x="926.10" y="481.20" width="91.00" height="36.9" fill="#76EE28"/>
<rect x="1017.10" y="481.20" width="12.00" height="36.9" fill="#FCDE4B"/>
<rect x="1029.10" y="481.20" width="0.90" height="36.9" fill="#EE32C8"/>
<rect x="1030.00" y="481.20" width="12.00" height="36.9" fill="#3200D7"/>
<rect x="895.50" y="521.52" width="1.50" height="36.9" fill="#3CFF82"/>
<rect x="897.00" y="521.52" width="32.10" height="36.9" fill="#00763C"/>
<rect x="929.10" y="521.52" width="80.00" height="36.9" fill="#76EE28"/>
<rect x="1009.10" y="521.52" width="14.20" height="36.9" fill="#FCDE4B"/>
<rect x="1023.30" y="521.52" width="0.70" height="36.9" fill="#EE32C8"/>
<rect x="1024.00" y="521.52" width="9.80" height="36.9" fill="#3200D7"/>
<rect x="895.50" y="561.84" width="5.40" height="36.9" fill="#3CFF82"/>
<rect x="900.90" y="561.84" width="23.20" height="36.9" fill="#00763C"/>
<rect x="924.10" y="561.84" width="80.00" height="36.9" fill="#76EE28"/>
<rect x="1004.10" y="561.84" width="8.00" height="36.9" fill="#FCDE4B"/>
<rect x="1012.10" y="561.84" width="3.00" height="36.9" fill="#EE32C8"/>
<rect x="1015.10" y="561.84" width="15.00" height="36.9" fill="#3200D7"/>
<rect x="895.50" y="602.16" width="4.40" height="36.9" fill="#3CFF82"/>
<rect x="899.90" y="602.16" width="23.20" height="36.9" fill="#00763C"/>
<rect x="923.10" y="602.16" width="146.10" height="36.9" fill="#76EE28"/>
<rect x="1069.20" y="602.16" width="15.20" height="36.9" fill="#FCDE4B"/>
<rect x="1084.40" y="602.16" width="1.70" height="36.9" fill="#EE32C8"/>
<rect x="1086.10" y="602.16" width="14.00" height="36.9" fill="#3200D7"/>
<rect x="895.50" y="642.48" width="3.40" height="36.9" fill="#3CFF82"/>
<rect x="898.90" y="642.48" width="24.20" height="36.9" fill="#00763C"/>
<rect x="923.10" y="642.48" width="78.00" height="36.9" fill="#76EE28"/>
<rect x="1001.10" y="642.48" width="6.80" height="36.9" fill="#FCDE4B"/>
<rect x="1007.90" y="642.48" width="1.00" height="36.9" fill="#EE32C8"/>
<rect x="1008.90" y="642.48" width="13.20" height="36.9" fill="#3200D7"/>
<rect x="895.50" y="682.80" width="5.40" height="36.9" fill="#3CFF82"/>
<rect x="900.90" y="682.80" width="26.90" height="36.9" fill="#00763C"/>
<rect x="927.80" y="682.80" width="155.40" height="36.9" fill="#76EE28"/>
<rect x="1083.20" y="682.80" width="11.90" height="36.9" fill="#FCDE4B"/>
<rect x="1095.10" y="682.80" width="6.00" height="36.9" fill="#EE32C8"/>
<rect x="1101.10" y="682.80" width="14.70" height="36.9" fill="#3200D7"/>
<rect x="895.50" y="723.12" width="8.70" height="36.9" fill="#3CFF82"/>
<rect x="904.20" y="723.12" width="27.60" height="36.9" fill="#00763C"/>
<rect x="931.80" y="723.12" width="105.20" height="36.9" fill="#76EE28"/>
<rect x="1037.00" y="723.12" width="6.30" height="36.9" fill="#FCDE4B"/>
<rect x="1043.30" y="723.12" width="1.00" height="36.9" fill="#EE32C8"/>
<rect x="1044.30" y="723.12" width="12.40" height="36.9" fill="#3200D7"/>
<rect x="895.50" y="763.44" width="6.40" height="36.9" fill="#3CFF82"/>
<rect x="901.90" y="763.44" width="25.90" height="36.9" fill="#00763C"/>
<rect x="927.80" y="763.44" width="134.90" height="36.9" fill="#76EE28"/>
<rect x="1062.70" y="763.44" width="11.50" height="36.9" fill="#FCDE4B"/>
<rect x="1074.20" y="763.44" width="2.70" height="36.9" fill="#EE32C8"/>
<rect x="1076.90" y="763.44" width="13.00" height="36.9" fill="#3200D7"/>
<rect x="1179.20" y="78.00" width="5.90" height="36.9" fill="#000000"/>
<rect x="1185.10" y="78.00" width="6.70" height="36.9" fill="#16B0BC"/>
<rect x="1191.80" y="78.00" width="18.40" height="36.9" fill="#A8FA60"/>
<rect x="1210.20" y="78.00" width="2.60" height="36.9" fill="#FFAA19"/>
<rect x="1212.80" y="78.00" width="38.10" height="36.9" fill="#B94614"/>
<rect x="1179.20" y="118.32" width="23.80" height="36.9" fill="#000000"/>
<rect x="1203.00" y="118.32" width="25.60" height="36.9" fill="#16B0BC"/>
<rect x="1228.60" y="118.32" width="9.60" height="36.9" fill="#A8FA60"/>
<rect x="1238.20" y="118.32" width="4.60" height="36.9" fill="#FFAA19"/>
<rect x="1242.80" y="118.32" width="63.00" height="36.9" fill="#B94614"/>
<rect x="1179.20" y="158.64" width="13.90" height="36.9" fill="#000000"/>
<rect x="1193.10" y="158.64" width="43.80" height="36.9" fill="#16B0BC"/>
<rect x="1236.90" y="158.64" width="16.30" height="36.9" fill="#A8FA60"/>
<rect x="1253.20" y="158.64" width="4.70" height="36.9" fill="#FFAA19"/>
<rect x="1257.90" y="158.64" width="58.00" height="36.9" fill="#B94614"/>
<rect x="1179.20" y="198.96" width="28.70" height="36.9" fill="#000000"/>
<rect x="1207.90" y="198.96" width="52.00" height="36.9" fill="#16B0BC"/>
<rect x="1259.90" y="198.96" width="18.20" height="36.9" fill="#A8FA60"/>
<rect x="1278.10" y="198.96" width="4.90" height="36.9" fill="#FFAA19"/>
<rect x="1283.00" y="198.96" width="40.60" height="36.9" fill="#B94614"/>
<rect x="1179.20" y="239.28" width="28.70" height="36.9" fill="#000000"/>
<rect x="1207.90" y="239.28" width="37.00" height="36.9" fill="#16B0BC"/>
<rect x="1244.90" y="239.28" width="13.00" height="36.9" fill="#A8FA60"/>
<rect x="1257.90" y="239.28" width="55.90" height="36.9" fill="#B94614"/>
<rect x="1179.20" y="279.60" width="23.80" height="36.9" fill="#000000"/>
<rect x="1203.00" y="279.60" width="51.80" height="36.9" fill="#16B0BC"/>
<rect x="1254.80" y="279.60" width="36.50" height="36.9" fill="#A8FA60"/>
<rect x="1291.30" y="279.60" width="1.50" height="36.9" fill="#FFAA19"/>
<rect x="1292.80" y="279.60" width="89.10" height="36.9" fill="#B94614"/>
<rect x="1179.20" y="319.92" width="0.80" height="36.9" fill="#000000"/>
<rect x="1180.00" y="319.92" width="3.70" height="36.9" fill="#16B0BC"/>
<rect x="1183.70" y="319.92" width="11.30" height="36.9" fill="#A8FA60"/>
<rect x="1179.20" y="360.24" width="0.80" height="36.9" fill="#000000"/>
<rect x="1180.00" y="360.24" width="7.00" height="36.9" fill="#16B0BC"/>
<rect x="1187.00" y="360.24" width="10.90" height="36.9" fill="#A8FA60"/>
<rect x="1179.20" y="400.56" width="0.80" height="36.9" fill="#000000"/>
<rect x="1180.00" y="400.56" width="7.00" height="36.9" fill="#16B0BC"/>
<rect x="1187.00" y="400.56" width="10.90" height="36.9" fill="#A8FA60"/>
<rect x="1179.20" y="440.88" width="0.80" height="36.9" fill="#000000"/>
<rect x="1180.00" y="440.88" width="9.00" height="36.9" fill="#16B0BC"/>
<rect x="1189.00" y="440.88" width="10.80" height="36.9" fill="#A8FA60"/>
<rect x="1179.20" y="481.20" width="0.80" height="36.9" fill="#000000"/>
<rect x="1180.00" y="481.20" width="3.70" height="36.9" fill="#16B0BC"/>
<rect x="1183.70" y="481.20" width="6.00" height="36.9" fill="#A8FA60"/>
<rect x="1179.20" y="521.52" width="0.80" height="36.9" fill="#000000"/>
<rect x="1180.00" y="521.52" width="7.00" height="36.9" fill="#16B0BC"/>
<rect x="1187.00" y="521.52" width="10.90" height="36.9" fill="#A8FA60"/>
<rect x="1179.20" y="561.84" width="0.80" height="36.9" fill="#000000"/>
<rect x="1180.00" y="561.84" width="4.00" height="36.9" fill="#16B0BC"/>
<rect x="1184.00" y="561.84" width="6.00" height="36.9" fill="#A8FA60"/>
<rect x="1179.20" y="602.16" width="0.80" height="36.9" fill="#000000"/>
<rect x="1180.00" y="602.16" width="2.00" height="36.9" fill="#16B0BC"/>
<rect x="1182.00" y="602.16" width="8.00" height="36.9" fill="#A8FA60"/>
<rect x="1179.20" y="642.48" width="0.80" height="36.9" fill="#000000"/>
<rect x="1180.00" y="642.48" width="2.00" height="36.9" fill="#16B0BC"/>
<rect x="1182.00" y="642.48" width="8.00" height="36.9" fill="#A8FA60"/>
<rect x="1179.20" y="682.80" width="0.80" height="36.9" fill="#000000"/>
<rect x="1180.00" y="682.80" width="8.90" height="36.9" fill="#16B0BC"/>
<rect x="1188.90" y="682.80" width="9.00" height="36.9" fill="#A8FA60"/>
<rect x="1179.20" y="723.12" width="0.80" height="36.9" fill="#000000"/>
<rect x="1180.00" y="723.12" width="6.90" height="36.9" fill="#16B0BC"/>
<rect x="1186.90" y="723.12" width="6.00" height="36.9" fill="#A8FA60"/>
<rect x="1192.90" y="723.12" width="2.00" height="36.9" fill="#FFAA19"/>
<rect x="1179.20" y="763.44" width="0.80" height="36.9" fill="#000000"/>
<rect x="1180.00" y="763.44" width="4.00" height="36.9" fill="#16B0BC"/>
<rect x="1184.00" y="763.44" width="10.90" height="36.9" fill="#A8FA60"/>
<rect x="1466.10" y="78.00" width="16.70" height="36.9" fill="#FFD700"/>
<rect x="1482.80" y="78.00" width="65.20" height="36.9" fill="#620000"/>
<rect x="1548.00" y="78.00" width="51.30" height="36.9" fill="#B0C6FF"/>
<rect x="1599.30" y="78.00" width="2.60" height="36.9" fill="#1E46FF"/>
<rect x="1601.90" y="78.00" width="52.30" height="36.9" fill="#FF7D37"/>
<rect x="1654.20" y="78.00" width="11.60" height="36.9" fill="#FF0A23"/>
<rect x="1466.10" y="118.32" width="19.80" height="36.9" fill="#FFD700"/>
<rect x="1485.90" y="118.32" width="78.20" height="36.9" fill="#620000"/>
<rect x="1564.10" y="118.32" width="55.10" height="36.9" fill="#B0C6FF"/>
<rect x="1619.20" y="118.32" width="3.90" height="36.9" fill="#1E46FF"/>
<rect x="1623.10" y="118.32" width="47.90" height="36.9" fill="#FF7D37"/>
<rect x="1671.00" y="118.32" width="10.90" height="36.9" fill="#FF0A23"/>
<rect x="1466.10" y="158.64" width="18.00" height="36.9" fill="#FFD700"/>
<rect x="1484.10" y="158.64" width="80.80" height="36.9" fill="#620000"/>
<rect x="1564.90" y="158.64" width="53.50" height="36.9" fill="#B0C6FF"/>
<rect x="1618.40" y="158.64" width="2.60" height="36.9" fill="#1E46FF"/>
<rect x="1621.00" y="158.64" width="51.30" height="36.9" fill="#FF7D37"/>
<rect x="1672.30" y="158.64" width="14.70" height="36.9" fill="#FF0A23"/>
<rect x="1466.10" y="198.96" width="18.00" height="36.9" fill="#FFD700"/>
<rect x="1484.10" y="198.96" width="90.90" height="36.9" fill="#620000"/>
<rect x="1575.00" y="198.96" width="61.00" height="36.9" fill="#B0C6FF"/>
<rect x="1636.00" y="198.96" width="5.00" height="36.9" fill="#1E46FF"/>
<rect x="1641.00" y="198.96" width="52.00" height="36.9" fill="#FF7D37"/>
<rect x="1693.00" y="198.96" width="11.60" height="36.9" fill="#FF0A23"/>
<rect x="1466.10" y="239.28" width="19.80" height="36.9" fill="#FFD700"/>
<rect x="1485.90" y="239.28" width="88.00" height="36.9" fill="#620000"/>
<rect x="1573.90" y="239.28" width="54.40" height="36.9" fill="#B0C6FF"/>
<rect x="1628.30" y="239.28" width="7.70" height="36.9" fill="#1E46FF"/>
<rect x="1636.00" y="239.28" width="49.20" height="36.9" fill="#FF7D37"/>
<rect x="1685.20" y="239.28" width="14.80" height="36.9" fill="#FF0A23"/>
<rect x="1466.10" y="279.60" width="18.00" height="36.9" fill="#FFD700"/>
<rect x="1484.10" y="279.60" width="95.80" height="36.9" fill="#620000"/>
<rect x="1579.90" y="279.60" width="58.00" height="36.9" fill="#B0C6FF"/>
<rect x="1637.90" y="279.60" width="5.40" height="36.9" fill="#1E46FF"/>
<rect x="1643.30" y="279.60" width="50.70" height="36.9" fill="#FF7D37"/>
<rect x="1694.00" y="279.60" width="14.80" height="36.9" fill="#FF0A23"/>
<rect x="1466.10" y="319.92" width="17.80" height="36.9" fill="#FFD700"/>
<rect x="1483.90" y="319.92" width="68.30" height="36.9" fill="#620000"/>
<rect x="1552.20" y="319.92" width="47.90" height="36.9" fill="#B0C6FF"/>
<rect x="1600.10" y="319.92" width="4.50" height="36.9" fill="#1E46FF"/>
<rect x="1604.60" y="319.92" width="55.30" height="36.9" fill="#FF7D37"/>
<rect x="1659.90" y="319.92" width="17.00" height="36.9" fill="#FF0A23"/>
<rect x="1466.10" y="360.24" width="16.80" height="36.9" fill="#FFD700"/>
<rect x="1482.90" y="360.24" width="69.30" height="36.9" fill="#620000"/>
<rect x="1552.20" y="360.24" width="57.90" height="36.9" fill="#B0C6FF"/>
<rect x="1610.10" y="360.24" width="5.00" height="36.9" fill="#1E46FF"/>
<rect x="1615.10" y="360.24" width="48.10" height="36.9" fill="#FF7D37"/>
<rect x="1663.20" y="360.24" width="10.70" height="36.9" fill="#FF0A23"/>
<rect x="1466.10" y="400.56" width="16.80" height="36.9" fill="#FFD700"/>
<rect x="1482.90" y="400.56" width="79.10" height="36.9" fill="#620000"/>
<rect x="1562.00" y="400.56" width="57.00" height="36.9" fill="#B0C6FF"/>
<rect x="1619.00" y="400.56" width="4.00" height="36.9" fill="#1E46FF"/>
<rect x="1623.00" y="400.56" width="43.90" height="36.9" fill="#FF7D37"/>
<rect x="1666.90" y="400.56" width="19.00" height="36.9" fill="#FF0A23"/>
<rect x="1466.10" y="440.88" width="16.80" height="36.9" fill="#FFD700"/>
<rect x="1482.90" y="440.88" width="85.80" height="36.9" fill="#620000"/>
<rect x="1568.70" y="440.88" width="45.30" height="36.9" fill="#B0C6FF"/>
<rect x="1614.00" y="440.88" width="5.00" height="36.9" fill="#1E46FF"/>
<rect x="1619.00" y="440.88" width="40.90" height="36.9" fill="#FF7D37"/>
<rect x="1659.90" y="440.88" width="30.00" height="36.9" fill="#FF0A23"/>
<rect x="1466.10" y="481.20" width="18.80" height="36.9" fill="#FFD700"/>
<rect x="1484.90" y="481.20" width="66.10" height="36.9" fill="#620000"/>
<rect x="1551.00" y="481.20" width="46.10" height="36.9" fill="#B0C6FF"/>
<rect x="1597.10" y="481.20" width="6.70" height="36.9" fill="#1E46FF"/>
<rect x="1603.80" y="481.20" width="37.40" height="36.9" fill="#FF7D37"/>
<rect x="1641.20" y="481.20" width="9.80" height="36.9" fill="#FF0A23"/>
<rect x="1466.10" y="521.52" width="17.80" height="36.9" fill="#FFD700"/>
<rect x="1483.90" y="521.52" width="65.10" height="36.9" fill="#620000"/>
<rect x="1549.00" y="521.52" width="53.10" height="36.9" fill="#B0C6FF"/>
<rect x="1602.10" y="521.52" width="3.00" height="36.9" fill="#1E46FF"/>
<rect x="1605.10" y="521.52" width="43.90" height="36.9" fill="#FF7D37"/>
<rect x="1649.00" y="521.52" width="12.00" height="36.9" fill="#FF0A23"/>
<rect x="1466.10" y="561.84" width="16.90" height="36.9" fill="#FFD700"/>
<rect x="1483.00" y="561.84" width="46.10" height="36.9" fill="#620000"/>
<rect x="1529.10" y="561.84" width="50.90" height="36.9" fill="#B0C6FF"/>
<rect x="1580.00" y="561.84" width="2.90" height="36.9" fill="#1E46FF"/>
<rect x="1582.90" y="561.84" width="40.10" height="36.9" fill="#FF7D37"/>
<rect x="1623.00" y="561.84" width="8.90" height="36.9" fill="#FF0A23"/>
<rect x="1466.10" y="602.16" width="17.90" height="36.9" fill="#FFD700"/>
<rect x="1484.00" y="602.16" width="77.00" height="36.9" fill="#620000"/>
<rect x="1561.00" y="602.16" width="53.30" height="36.9" fill="#B0C6FF"/>
<rect x="1614.30" y="602.16" width="3.70" height="36.9" fill="#1E46FF"/>
<rect x="1618.00" y="602.16" width="41.10" height="36.9" fill="#FF7D37"/>
<rect x="1659.10" y="602.16" width="10.80" height="36.9" fill="#FF0A23"/>
<rect x="1466.10" y="642.48" width="16.90" height="36.9" fill="#FFD700"/>
<rect x="1483.00" y="642.48" width="42.90" height="36.9" fill="#620000"/>
<rect x="1525.90" y="642.48" width="52.20" height="36.9" fill="#B0C6FF"/>
<rect x="1578.10" y="642.48" width="2.90" height="36.9" fill="#1E46FF"/>
<rect x="1581.00" y="642.48" width="44.30" height="36.9" fill="#FF7D37"/>
<rect x="1625.30" y="642.48" width="8.50" height="36.9" fill="#FF0A23"/>
<rect x="1466.10" y="682.80" width="17.90" height="36.9" fill="#FFD700"/>
<rect x="1484.00" y="682.80" width="67.00" height="36.9" fill="#620000"/>
<rect x="1551.00" y="682.80" width="56.10" height="36.9" fill="#B0C6FF"/>
<rect x="1607.10" y="682.80" width="4.00" height="36.9" fill="#1E46FF"/>
<rect x="1611.10" y="682.80" width="43.00" height="36.9" fill="#FF7D37"/>
<rect x="1654.10" y="682.80" width="9.70" height="36.9" fill="#FF0A23"/>
<rect x="1466.10" y="723.12" width="15.80" height="36.9" fill="#FFD700"/>
<rect x="1481.90" y="723.12" width="54.10" height="36.9" fill="#620000"/>
<rect x="1536.00" y="723.12" width="56.10" height="36.9" fill="#B0C6FF"/>
<rect x="1592.10" y="723.12" width="3.70" height="36.9" fill="#1E46FF"/>
<rect x="1595.80" y="723.12" width="40.30" height="36.9" fill="#FF7D37"/>
<rect x="1636.10" y="723.12" width="10.60" height="36.9" fill="#FF0A23"/>
<rect x="1466.10" y="763.44" width="18.90" height="36.9" fill="#FFD700"/>
<rect x="1485.00" y="763.44" width="68.60" height="36.9" fill="#620000"/>
<rect x="1553.60" y="763.44" width="1.90" height="36.9" fill="#BE6EFF"/>
<rect x="1555.50" y="763.44" width="70.70" height="36.9" fill="#B0C6FF"/>
<rect x="1626.20" y="763.44" width="3.60" height="36.9" fill="#1E46FF"/>
<rect x="1629.80" y="763.44" width="47.20" height="36.9" fill="#FF7D37"/>
<rect x="1677.00" y="763.44" width="11.80" height="36.9" fill="#FF0A23"/>
<rect x="1779.10" y="78.00" width="20.80" height="36.9" fill="#2341F0"/>
<rect x="1799.90" y="78.00" width="14.30" height="36.9" fill="#58ACFF"/>
<rect x="1814.20" y="78.00" width="4.90" height="36.9" fill="#8A5FC8"/>
<rect x="1819.10" y="78.00" width="8.80" height="36.9" fill="#FF8C55"/>
<rect x="1779.10" y="118.32" width="53.70" height="36.9" fill="#2341F0"/>
<rect x="1832.80" y="118.32" width="26.10" height="36.9" fill="#58ACFF"/>
<rect x="1858.90" y="118.32" width="9.10" height="36.9" fill="#8A5FC8"/>
<rect x="1868.00" y="118.32" width="11.90" height="36.9" fill="#FF8C55"/>
<rect x="1779.10" y="158.64" width="40.80" height="36.9" fill="#2341F0"/>
<rect x="1819.90" y="158.64" width="22.20" height="36.9" fill="#58ACFF"/>
<rect x="1842.10" y="158.64" width="5.20" height="36.9" fill="#8A5FC8"/>
<rect x="1847.30" y="158.64" width="18.60" height="36.9" fill="#FF8C55"/>
<rect x="1779.10" y="198.96" width="58.90" height="36.9" fill="#2341F0"/>
<rect x="1838.00" y="198.96" width="18.10" height="36.9" fill="#58ACFF"/>
<rect x="1856.10" y="198.96" width="6.70" height="36.9" fill="#8A5FC8"/>
<rect x="1862.80" y="198.96" width="16.00" height="36.9" fill="#FF8C55"/>
<rect x="1779.10" y="239.28" width="65.80" height="36.9" fill="#2341F0"/>
<rect x="1844.90" y="239.28" width="29.00" height="36.9" fill="#58ACFF"/>
<rect x="1873.90" y="239.28" width="9.10" height="36.9" fill="#8A5FC8"/>
<rect x="1883.00" y="239.28" width="16.80" height="36.9" fill="#FF8C55"/>
<rect x="1779.10" y="279.60" width="78.80" height="36.9" fill="#2341F0"/>
<rect x="1857.90" y="279.60" width="30.30" height="36.9" fill="#58ACFF"/>
<rect x="1888.20" y="279.60" width="7.70" height="36.9" fill="#8A5FC8"/>
<rect x="1895.90" y="279.60" width="19.90" height="36.9" fill="#FF8C55"/>
<rect x="1779.10" y="319.92" width="94.80" height="36.9" fill="#2341F0"/>
<rect x="1873.90" y="319.92" width="19.10" height="36.9" fill="#58ACFF"/>
<rect x="1893.00" y="319.92" width="5.90" height="36.9" fill="#8A5FC8"/>
<rect x="1898.90" y="319.92" width="15.00" height="36.9" fill="#FF8C55"/>
<rect x="1779.10" y="360.24" width="31.80" height="36.9" fill="#2341F0"/>
<rect x="1810.90" y="360.24" width="17.20" height="36.9" fill="#58ACFF"/>
<rect x="1828.10" y="360.24" width="4.90" height="36.9" fill="#8A5FC8"/>
<rect x="1833.00" y="360.24" width="11.80" height="36.9" fill="#FF8C55"/>
<rect x="1779.10" y="400.56" width="27.80" height="36.9" fill="#2341F0"/>
<rect x="1806.90" y="400.56" width="13.20" height="36.9" fill="#58ACFF"/>
<rect x="1820.10" y="400.56" width="7.70" height="36.9" fill="#8A5FC8"/>
<rect x="1827.80" y="400.56" width="9.00" height="36.9" fill="#FF8C55"/>
<rect x="1779.10" y="440.88" width="56.90" height="36.9" fill="#2341F0"/>
<rect x="1836.00" y="440.88" width="13.20" height="36.9" fill="#58ACFF"/>
<rect x="1849.20" y="440.88" width="9.50" height="36.9" fill="#8A5FC8"/>
<rect x="1858.70" y="440.88" width="9.00" height="36.9" fill="#FF8C55"/>
<rect x="1779.10" y="481.20" width="23.80" height="36.9" fill="#2341F0"/>
<rect x="1802.90" y="481.20" width="14.40" height="36.9" fill="#58ACFF"/>
<rect x="1817.30" y="481.20" width="1.80" height="36.9" fill="#8A5FC8"/>
<rect x="1819.10" y="481.20" width="4.70" height="36.9" fill="#FF8C55"/>
<rect x="1779.10" y="521.52" width="22.80" height="36.9" fill="#2341F0"/>
<rect x="1801.90" y="521.52" width="15.90" height="36.9" fill="#58ACFF"/>
<rect x="1817.80" y="521.52" width="5.00" height="36.9" fill="#8A5FC8"/>
<rect x="1822.80" y="521.52" width="7.00" height="36.9" fill="#FF8C55"/>
<rect x="1779.10" y="561.84" width="15.00" height="36.9" fill="#2341F0"/>
<rect x="1794.10" y="561.84" width="7.90" height="36.9" fill="#58ACFF"/>
<rect x="1802.00" y="561.84" width="4.90" height="36.9" fill="#8A5FC8"/>
<rect x="1806.90" y="561.84" width="9.00" height="36.9" fill="#FF8C55"/>
<rect x="1779.10" y="602.16" width="38.90" height="36.9" fill="#2341F0"/>
<rect x="1818.00" y="602.16" width="19.00" height="36.9" fill="#58ACFF"/>
<rect x="1837.00" y="602.16" width="6.00" height="36.9" fill="#8A5FC8"/>
<rect x="1843.00" y="602.16" width="12.90" height="36.9" fill="#FF8C55"/>
<rect x="1779.10" y="642.48" width="27.00" height="36.9" fill="#2341F0"/>
<rect x="1806.10" y="642.48" width="10.00" height="36.9" fill="#58ACFF"/>
<rect x="1816.10" y="642.48" width="2.90" height="36.9" fill="#8A5FC8"/>
<rect x="1819.00" y="642.48" width="6.90" height="36.9" fill="#FF8C55"/>
<rect x="1779.10" y="682.80" width="33.90" height="36.9" fill="#2341F0"/>
<rect x="1813.00" y="682.80" width="17.90" height="36.9" fill="#58ACFF"/>
<rect x="1830.90" y="682.80" width="7.10" height="36.9" fill="#8A5FC8"/>
<rect x="1838.00" y="682.80" width="15.80" height="36.9" fill="#FF8C55"/>
<rect x="1779.10" y="723.12" width="13.80" height="36.9" fill="#2341F0"/>
<rect x="1792.90" y="723.12" width="12.20" height="36.9" fill="#58ACFF"/>
<rect x="1805.10" y="723.12" width="3.70" height="36.9" fill="#8A5FC8"/>
<rect x="1808.80" y="723.12" width="8.90" height="36.9" fill="#FF8C55"/>
<rect x="1779.10" y="763.44" width="21.70" height="36.9" fill="#2341F0"/>
<rect x="1800.80" y="763.44" width="13.20" height="36.9" fill="#58ACFF"/>
<rect x="1814.00" y="763.44" width="6.90" height="36.9" fill="#8A5FC8"/>
<rect x="1820.90" y="763.44" width="11.00" height="36.9" fill="#FF8C55"/>
<circle cx="584.5" cy="96.45" r="5.8" fill="#C40000"/>
<circle cx="586" cy="136.77" r="5.8" fill="#C40000"/>
<circle cx="586.9" cy="177.09" r="5.8" fill="#C40000"/>
<circle cx="586.4" cy="217.41" r="5.8" fill="#C40000"/>
<circle cx="587" cy="257.73" r="5.8" fill="#C40000"/>
<circle cx="587" cy="298.05" r="5.8" fill="#C40000"/>
<circle cx="585.5" cy="338.37" r="5.8" fill="#C40000"/>
<circle cx="587" cy="378.69" r="5.8" fill="#C40000"/>
<circle cx="587.5" cy="419.01" r="5.8" fill="#C40000"/>
<circle cx="587" cy="459.33" r="5.8" fill="#C40000"/>
<circle cx="585.5" cy="499.65" r="5.8" fill="#C40000"/>
<circle cx="587.5" cy="539.97" r="5.8" fill="#C40000"/>
<circle cx="587" cy="580.29" r="5.8" fill="#C40000"/>
<circle cx="587.5" cy="620.61" r="5.8" fill="#C40000"/>
<circle cx="586.5" cy="660.93" r="5.8" fill="#C40000"/>
<circle cx="586.5" cy="701.25" r="5.8" fill="#C40000"/>
<circle cx="579.7" cy="741.57" r="5.8" fill="#C40000"/>
<circle cx="587" cy="781.89" r="5.8" fill="#C40000"/>
<rect x="499.7" y="73.2" width="96.00000000000001" height="732.2" fill="none" stroke="#000" stroke-width="1.8"/>
<rect x="657.3" y="73.2" width="181.40000000000003" height="732.2" fill="none" stroke="#000" stroke-width="1.8"/>
<rect x="885.5" y="73.2" width="240.3" height="732.2" fill="none" stroke="#000" stroke-width="1.8"/>
<rect x="1170.5" y="73.2" width="219.80000000000013" height="732.2" fill="none" stroke="#000" stroke-width="1.8"/>
<rect x="1455.5" y="73.2" width="265.1000000000001" height="732.2" fill="none" stroke="#000" stroke-width="1.8"/>
<rect x="1773.7" y="73.2" width="147.99999999999994" height="732.2" fill="none" stroke="#000" stroke-width="1.8"/>
<line x1="502.30" y1="805.8" x2="502.30" y2="811.6999999999999" stroke="#000" stroke-width="4.2"/>
<line x1="545.50" y1="805.8" x2="545.50" y2="811.6999999999999" stroke="#000" stroke-width="4.2"/>
<line x1="588.00" y1="805.8" x2="588.00" y2="811.6999999999999" stroke="#000" stroke-width="4.2"/>
<line x1="664.50" y1="805.8" x2="664.50" y2="811.6999999999999" stroke="#000" stroke-width="4.2"/>
<line x1="718.40" y1="805.8" x2="718.40" y2="811.6999999999999" stroke="#000" stroke-width="4.2"/>
<line x1="772.40" y1="805.8" x2="772.40" y2="811.6999999999999" stroke="#000" stroke-width="4.2"/>
<line x1="826.30" y1="805.8" x2="826.30" y2="811.6999999999999" stroke="#000" stroke-width="4.2"/>
<line x1="895.30" y1="805.8" x2="895.30" y2="811.6999999999999" stroke="#000" stroke-width="4.2"/>
<line x1="940.60" y1="805.8" x2="940.60" y2="811.6999999999999" stroke="#000" stroke-width="4.2"/>
<line x1="985.90" y1="805.8" x2="985.90" y2="811.6999999999999" stroke="#000" stroke-width="4.2"/>
<line x1="1031.20" y1="805.8" x2="1031.20" y2="811.6999999999999" stroke="#000" stroke-width="4.2"/>
<line x1="1076.50" y1="805.8" x2="1076.50" y2="811.6999999999999" stroke="#000" stroke-width="4.2"/>
<line x1="1121.80" y1="805.8" x2="1121.80" y2="811.6999999999999" stroke="#000" stroke-width="4.2"/>
<line x1="1179.20" y1="805.8" x2="1179.20" y2="811.6999999999999" stroke="#000" stroke-width="4.2"/>
<line x1="1229.64" y1="805.8" x2="1229.64" y2="811.6999999999999" stroke="#000" stroke-width="4.2"/>
<line x1="1280.08" y1="805.8" x2="1280.08" y2="811.6999999999999" stroke="#000" stroke-width="4.2"/>
<line x1="1330.52" y1="805.8" x2="1330.52" y2="811.6999999999999" stroke="#000" stroke-width="4.2"/>
<line x1="1380.96" y1="805.8" x2="1380.96" y2="811.6999999999999" stroke="#000" stroke-width="4.2"/>
<line x1="1466.10" y1="805.8" x2="1466.10" y2="811.6999999999999" stroke="#000" stroke-width="4.2"/>
<line x1="1554.10" y1="805.8" x2="1554.10" y2="811.6999999999999" stroke="#000" stroke-width="4.2"/>
<line x1="1642.20" y1="805.8" x2="1642.20" y2="811.6999999999999" stroke="#000" stroke-width="4.2"/>
<line x1="1779.00" y1="805.8" x2="1779.00" y2="811.6999999999999" stroke="#000" stroke-width="4.2"/>
<line x1="1832.30" y1="805.8" x2="1832.30" y2="811.6999999999999" stroke="#000" stroke-width="4.2"/>
<line x1="1885.40" y1="805.8" x2="1885.40" y2="811.6999999999999" stroke="#000" stroke-width="4.2"/>
<g font-family='"Liberation Sans", Arial, Helvetica, sans-serif' fill="#000">
<text x="496.44" y="826.60" font-size="14.90" stroke="#000" stroke-width="0.45" textLength="24.36" lengthAdjust="spacingAndGlyphs">0%</text>
<text x="534.15" y="826.60" font-size="14.90" stroke="#000" stroke-width="0.45" textLength="32.43" lengthAdjust="spacingAndGlyphs">50%</text>
<text x="571.96" y="826.60" font-size="14.90" stroke="#000" stroke-width="0.45" textLength="38.38" lengthAdjust="spacingAndGlyphs">100%</text>
<text x="659.48" y="827.70" font-size="17.00" stroke="#000" stroke-width="0.45" textLength="10.24" lengthAdjust="spacingAndGlyphs">0</text>
<text x="707.87" y="827.70" font-size="17.00" stroke="#000" stroke-width="0.45" textLength="19.20" lengthAdjust="spacingAndGlyphs">5k</text>
<text x="758.66" y="827.70" font-size="17.00" stroke="#000" stroke-width="0.45" textLength="26.32" lengthAdjust="spacingAndGlyphs">10k</text>
<text x="811.13" y="827.70" font-size="17.00" stroke="#000" stroke-width="0.45" textLength="28.94" lengthAdjust="spacingAndGlyphs">15k</text>
<text x="889.23" y="829.00" font-size="17.50" stroke="#000" stroke-width="0.45" textLength="10.94" lengthAdjust="spacingAndGlyphs">0</text>
<text x="926.80" y="829.00" font-size="17.50" stroke="#000" stroke-width="0.45" textLength="28.57" lengthAdjust="spacingAndGlyphs">100</text>
<text x="970.30" y="829.00" font-size="17.50" stroke="#000" stroke-width="0.45" textLength="30.01" lengthAdjust="spacingAndGlyphs">200</text>
<text x="1016.95" y="829.00" font-size="17.50" stroke="#000" stroke-width="0.45" textLength="28.52" lengthAdjust="spacingAndGlyphs">300</text>
<text x="1061.69" y="829.00" font-size="17.50" stroke="#000" stroke-width="0.45" textLength="30.02" lengthAdjust="spacingAndGlyphs">400</text>
<text x="1107.20" y="829.00" font-size="17.50" stroke="#000" stroke-width="0.45" textLength="28.97" lengthAdjust="spacingAndGlyphs">500</text>
<text x="1174.44" y="827.00" font-size="15.20" stroke="#000" stroke-width="0.45" textLength="9.42" lengthAdjust="spacingAndGlyphs">0</text>
<text x="1220.27" y="827.00" font-size="15.20" stroke="#000" stroke-width="0.45" textLength="18.38" lengthAdjust="spacingAndGlyphs">20</text>
<text x="1270.50" y="827.00" font-size="15.20" stroke="#000" stroke-width="0.45" textLength="19.27" lengthAdjust="spacingAndGlyphs">40</text>
<text x="1320.94" y="827.00" font-size="15.20" stroke="#000" stroke-width="0.45" textLength="18.82" lengthAdjust="spacingAndGlyphs">60</text>
<text x="1371.70" y="827.00" font-size="15.20" stroke="#000" stroke-width="0.45" textLength="17.93" lengthAdjust="spacingAndGlyphs">80</text>
<text x="1460.77" y="828.80" font-size="16.50" stroke="#000" stroke-width="0.45" textLength="10.35" lengthAdjust="spacingAndGlyphs">0</text>
<text x="1539.72" y="828.80" font-size="16.50" stroke="#000" stroke-width="0.45" textLength="30.18" lengthAdjust="spacingAndGlyphs">100</text>
<text x="1626.98" y="828.80" font-size="16.50" stroke="#000" stroke-width="0.45" textLength="30.43" lengthAdjust="spacingAndGlyphs">200</text>
<text x="1773.68" y="827.40" font-size="15.60" stroke="#000" stroke-width="0.45" textLength="10.24" lengthAdjust="spacingAndGlyphs">0</text>
<text x="1818.38" y="825.90" font-size="15.60" stroke="#000" stroke-width="0.45" textLength="27.37" lengthAdjust="spacingAndGlyphs">200</text>
<text x="1871.63" y="825.90" font-size="15.60" stroke="#000" stroke-width="0.45" textLength="26.90" lengthAdjust="spacingAndGlyphs">400</text>
<text x="510.08" y="20.50" font-size="22.80" font-weight="bold" textLength="89.99" lengthAdjust="spacingAndGlyphs">Genome</text>
<text x="479.08" y="48.00" font-size="22.80" font-weight="bold" textLength="152.73" lengthAdjust="spacingAndGlyphs">Completeness</text>
<text x="689.31" y="30.00" font-size="22.80" font-weight="bold" textLength="112.42" lengthAdjust="spacingAndGlyphs"># of genes</text>
<text x="925.62" y="30.70" font-size="22.80" font-weight="bold" textLength="150.01" lengthAdjust="spacingAndGlyphs"># of CAZymes</text>
<text x="1199.42" y="18.90" font-size="22.80" font-weight="bold" textLength="159.10" lengthAdjust="spacingAndGlyphs"># of Secondary</text>
<text x="1174.80" y="45.90" font-size="22.80" font-weight="bold" textLength="215.52" lengthAdjust="spacingAndGlyphs">Metabolism clusters</text>
<text x="1505.42" y="31.00" font-size="22.80" font-weight="bold" textLength="153.10" lengthAdjust="spacingAndGlyphs"># of Proteases</text>
<text x="1772.52" y="23.20" font-size="22.80" font-weight="bold" textLength="140.05" lengthAdjust="spacingAndGlyphs"># of Secreted</text>
<text x="1797.49" y="50.00" font-size="22.80" font-weight="bold" textLength="90.03" lengthAdjust="spacingAndGlyphs">Proteins</text>
<text transform="translate(1965.90,0) rotate(90)" x="88.89" y="0" font-size="23.20" font-weight="bold" textLength="191.33" lengthAdjust="spacingAndGlyphs">Lecanoromycetes</text>
<text transform="translate(1965.90,0) rotate(90)" x="339.61" y="0" font-size="23.20" font-weight="bold" textLength="190.85" lengthAdjust="spacingAndGlyphs">Pucciniomycotina</text>
<text transform="translate(1965.90,0) rotate(90)" x="588.75" y="0" font-size="23.20" font-weight="bold" textLength="180.45" lengthAdjust="spacingAndGlyphs">Tremellomycetes</text>
<text x="147.26" y="101.00" font-size="24.00" stroke="#000" stroke-width="0.45" textLength="182.94" lengthAdjust="spacingAndGlyphs">Lasallia pustulata</text>
<text x="147.85" y="140.70" font-size="24.00" stroke="#000" stroke-width="0.45" textLength="217.65" lengthAdjust="spacingAndGlyphs">Ramalina intermedia</text>
<text x="147.98" y="181.40" font-size="24.00" stroke="#000" stroke-width="0.45" textLength="153.13" lengthAdjust="spacingAndGlyphs">Cladonia grayi</text>
<text x="148.15" y="221.60" font-size="24.00" stroke="#000" stroke-width="0.45" textLength="221.85" lengthAdjust="spacingAndGlyphs">Alectoria sarmentosa</text>
<text x="148.05" y="261.70" font-size="24.00" stroke="#000" stroke-width="0.45" textLength="258.55" lengthAdjust="spacingAndGlyphs">Pseudevernia furfuracea</text>
<text x="148.05" y="301.80" font-size="24.00" stroke="#000" stroke-width="0.45" textLength="179.55" lengthAdjust="spacingAndGlyphs">Evernia prunastri</text>
<text x="148.06" y="342.70" font-size="24.00" stroke="#000" stroke-width="0.45" textLength="185.50" lengthAdjust="spacingAndGlyphs">Puccinia graminis</text>
<text x="148.05" y="382.80" font-size="24.00" stroke="#000" stroke-width="0.45" textLength="226.21" lengthAdjust="spacingAndGlyphs">Rhodotorula graminis</text>
<text x="148.05" y="422.80" font-size="24.00" stroke="#000" stroke-width="0.45" textLength="324.80" lengthAdjust="spacingAndGlyphs">Microbotryum lychnidis-dioicae</text>
<text x="148.05" y="462.70" font-size="24.00" stroke="#000" stroke-width="0.45" textLength="173.31" lengthAdjust="spacingAndGlyphs">Mixia osmundae</text>
<text x="147.80" y="503.10" font-size="24.00" stroke="#000" stroke-width="0.45" textLength="314.40" lengthAdjust="spacingAndGlyphs">Cyphobasidium from Alectoria</text>
<text x="147.79" y="542.90" font-size="24.00" stroke="#000" stroke-width="0.45" textLength="254.58" lengthAdjust="spacingAndGlyphs">Cystobasidium minutum</text>
<text x="147.79" y="583.40" font-size="24.00" stroke="#000" stroke-width="0.45" textLength="275.96" lengthAdjust="spacingAndGlyphs">Cryptococcus neoformans</text>
<text x="147.67" y="623.40" font-size="24.00" stroke="#000" stroke-width="0.45" textLength="199.89" lengthAdjust="spacingAndGlyphs">Tremella fuciformis</text>
<text x="147.67" y="664.60" font-size="24.00" stroke="#000" stroke-width="0.45" textLength="226.73" lengthAdjust="spacingAndGlyphs">Tremella mesenterica</text>
<text x="147.34" y="704.80" font-size="24.00" stroke="#000" stroke-width="0.45" textLength="241.11" lengthAdjust="spacingAndGlyphs">Kockovaella imperatae</text>
<text x="147.87" y="744.60" font-size="24.00" stroke="#000" stroke-width="0.45" textLength="242.43" lengthAdjust="spacingAndGlyphs">Tremella from Alectoria</text>
<text x="148.06" y="784.40" font-size="24.00" stroke="#000" stroke-width="0.45" textLength="235.14" lengthAdjust="spacingAndGlyphs">Naematella encephela</text>
<text x="218.80" y="892.70" font-size="23.40" stroke="#000" stroke-width="0.45" textLength="71.78" lengthAdjust="spacingAndGlyphs">Lichen</text>
<text x="219.76" y="916.60" font-size="23.40" stroke="#000" stroke-width="0.45" textLength="203.00" lengthAdjust="spacingAndGlyphs">Putative endophyte</text>
<text x="219.75" y="943.80" font-size="23.40" stroke="#000" stroke-width="0.45" textLength="160.20" lengthAdjust="spacingAndGlyphs">Plant pathogen</text>
<text x="219.75" y="966.40" font-size="23.40" stroke="#000" stroke-width="0.45" textLength="141.10" lengthAdjust="spacingAndGlyphs">Mycoparasite</text>
<text x="220.35" y="994.90" font-size="23.40" stroke="#000" stroke-width="0.45" textLength="178.29" lengthAdjust="spacingAndGlyphs">Animal pathogen</text>
<text x="701.45" y="902.80" font-size="23.40" stroke="#000" stroke-width="0.45" textLength="108.38" lengthAdjust="spacingAndGlyphs">Annotated</text>
<text x="700.71" y="933.60" font-size="23.40" stroke="#000" stroke-width="0.45" textLength="140.17" lengthAdjust="spacingAndGlyphs">Unannotated</text>
<text x="963.25" y="889.60" font-size="23.40" stroke="#000" stroke-width="0.45" textLength="34.70" lengthAdjust="spacingAndGlyphs">AA</text>
<text x="961.99" y="919.80" font-size="23.40" stroke="#000" stroke-width="0.45" textLength="57.33" lengthAdjust="spacingAndGlyphs">CBM</text>
<text x="961.98" y="949.70" font-size="23.40" stroke="#000" stroke-width="0.45" textLength="36.03" lengthAdjust="spacingAndGlyphs">CE</text>
<text x="1063.63" y="889.60" font-size="23.40" stroke="#000" stroke-width="0.45" textLength="37.93" lengthAdjust="spacingAndGlyphs">GH</text>
<text x="1063.65" y="919.80" font-size="23.40" stroke="#000" stroke-width="0.45" textLength="34.52" lengthAdjust="spacingAndGlyphs">GT</text>
<text x="1063.63" y="949.70" font-size="23.40" stroke="#000" stroke-width="0.45" textLength="32.35" lengthAdjust="spacingAndGlyphs">PL</text>
<text x="1254.95" y="890.60" font-size="23.40" stroke="#000" stroke-width="0.45" textLength="67.90" lengthAdjust="spacingAndGlyphs">Type I</text>
<text x="1254.98" y="923.80" font-size="23.40" stroke="#000" stroke-width="0.45" textLength="77.26" lengthAdjust="spacingAndGlyphs">Type III</text>
<text x="1254.98" y="958.90" font-size="23.40" stroke="#000" stroke-width="0.45" textLength="86.05" lengthAdjust="spacingAndGlyphs">Terpene</text>
<text x="1253.37" y="993.10" font-size="23.40" stroke="#000" stroke-width="0.45" textLength="54.80" lengthAdjust="spacingAndGlyphs">NRP</text>
<text x="1254.36" y="1028.20" font-size="23.40" stroke="#000" stroke-width="0.45" textLength="60.45" lengthAdjust="spacingAndGlyphs">Other</text>
<text x="1547.15" y="892.50" font-size="23.40" stroke="#000" stroke-width="0.45" textLength="15.69" lengthAdjust="spacingAndGlyphs">A</text>
<text x="1546.03" y="923.70" font-size="23.40" stroke="#000" stroke-width="0.45" textLength="8.94" lengthAdjust="spacingAndGlyphs">I</text>
<text x="1547.63" y="954.50" font-size="23.40" stroke="#000" stroke-width="0.45" textLength="17.32" lengthAdjust="spacingAndGlyphs">N</text>
<text x="1546.99" y="985.00" font-size="23.40" stroke="#000" stroke-width="0.45" textLength="16.34" lengthAdjust="spacingAndGlyphs">S</text>
<text x="1628.67" y="892.50" font-size="23.40" stroke="#000" stroke-width="0.45" textLength="17.45" lengthAdjust="spacingAndGlyphs">C</text>
<text x="1628.79" y="923.70" font-size="23.40" stroke="#000" stroke-width="0.45" textLength="20.42" lengthAdjust="spacingAndGlyphs">M</text>
<text x="1629.16" y="954.50" font-size="23.40" stroke="#000" stroke-width="0.45" textLength="15.79" lengthAdjust="spacingAndGlyphs">P</text>
<text x="1628.75" y="985.00" font-size="23.40" stroke="#000" stroke-width="0.45" textLength="14.91" lengthAdjust="spacingAndGlyphs">T</text>
<text x="1808.76" y="890.60" font-size="23.40" stroke="#000" stroke-width="0.45" textLength="107.53" lengthAdjust="spacingAndGlyphs">CAZymes</text>
<text x="1807.98" y="925.20" font-size="23.40" stroke="#000" stroke-width="0.45" textLength="111.12" lengthAdjust="spacingAndGlyphs">Proteases</text>
<text x="1809.95" y="959.90" font-size="23.40" stroke="#000" stroke-width="0.45" textLength="112.64" lengthAdjust="spacingAndGlyphs">Annotated</text>
<text x="1808.13" y="997.40" font-size="23.40" stroke="#000" stroke-width="0.45" textLength="138.63" lengthAdjust="spacingAndGlyphs">Unannotated</text>
</g>
<path d="M142.50,257.72H132.30V297.95H142.50 M142.50,217.49H124.20V277.83H132.30 M142.50,177.26H116.20V247.66H124.20 M142.50,137.03H107.90V212.46H116.20 M142.50,96.80H99.60V174.75H107.90 M142.50,378.41H131.30V418.64H142.50 M142.50,499.10H131.80V539.33H142.50 M142.50,458.87H123.40V519.21H131.80 M131.30,398.52H107.80V489.04H123.40 M142.50,338.18H99.40V443.78H107.80 M142.50,619.79H131.30V660.02H142.50 M142.50,740.48H132.00V780.71H142.50 M142.50,700.25H123.30V760.59H132.00 M131.30,639.90H107.60V730.42H123.30 M142.50,579.56H99.70V685.16H107.60 M99.40,390.98H51.00V632.36H99.70 M99.60,135.77H3.20V511.67H51.00 M0.00,323.72L3.20,323.72" fill="none" stroke="#000" stroke-width="3.8" stroke-linejoin="miter" stroke-linecap="butt"/>
<polygon points="335.90,99.90 345.00,99.90 340.45,90.90" fill="#1A1EF0"/>
<polygon points="372.00,140.90 381.00,140.90 376.50,132.10" fill="#1A1EF0"/>
<polygon points="303.90,180.00 313.00,180.00 308.45,170.90" fill="#1A1EF0"/>
<polygon points="378.00,221.80 387.00,221.80 382.50,212.00" fill="#1A1EF0"/>
<polygon points="412.00,263.00 422.00,263.00 417.00,253.10" fill="#1A1EF0"/>
<polygon points="333.90,302.80 343.10,302.80 338.50,293.10" fill="#1A1EF0"/>
<polygon points="344.37,330.70 348.27,332.86 354.49,331.53 353.08,337.01 356.07,341.82 349.84,342.40 346.94,346.14 345.36,341.49 339.80,339.66 343.87,336.59" fill="#F50F23"/>
<rect x="381" y="370.9" width="11.80" height="13.00" fill="#FF9728"/>
<polygon points="478.57,411.20 482.47,413.36 488.69,412.03 487.28,417.51 490.27,422.32 484.04,422.90 481.14,426.64 479.56,421.99 474.00,420.16 478.07,417.09" fill="#F50F23"/>
<polygon points="329.46,451.38 333.22,453.46 339.22,452.18 337.86,457.46 340.74,462.10 334.74,462.66 331.94,466.26 330.42,461.78 325.06,460.02 328.98,457.06" fill="#F50F23"/>
<polygon points="469.90,503.80 479.00,503.80 474.45,494.10" fill="#1A1EF0"/>
<rect x="407" y="533.1" width="12.90" height="13.60" fill="#FF9728"/>
<rect x="427" y="572" width="12.90" height="12.70" fill="#FF9728"/>
<polygon points="448.80,572.20 453.90,572.20 455.00,573.60 455.00,578.20 451.60,582.70 445.30,582.70 444.20,581.10 444.20,576.50" fill="#D232FA"/>
<circle cx="357.5" cy="619.8" r="5.9" fill="#00EE00"/>
<circle cx="386.5" cy="659.5" r="5.6" fill="#00EE00"/>
<rect x="393.9" y="693.9" width="13.10" height="14.00" fill="#FF9728"/>
<polygon points="394.00,745.50 403.10,745.50 398.55,736.20" fill="#1A1EF0"/>
<circle cx="391.6" cy="781.0" r="5.8" fill="#00EE00"/>
<rect x="140" y="197.5" width="1787.6" height="39.40" rx="19.70" ry="19.70" fill="none" stroke="#2E4852" stroke-width="4.4"/>
<rect x="140" y="480.0" width="1787.6" height="38.90" rx="19.45" ry="19.45" fill="none" stroke="#2E4852" stroke-width="4.4"/>
<rect x="140" y="723.4" width="1787.6" height="35.50" rx="17.75" ry="17.75" fill="none" stroke="#2E4852" stroke-width="4.4"/>
</svg></body></html>
